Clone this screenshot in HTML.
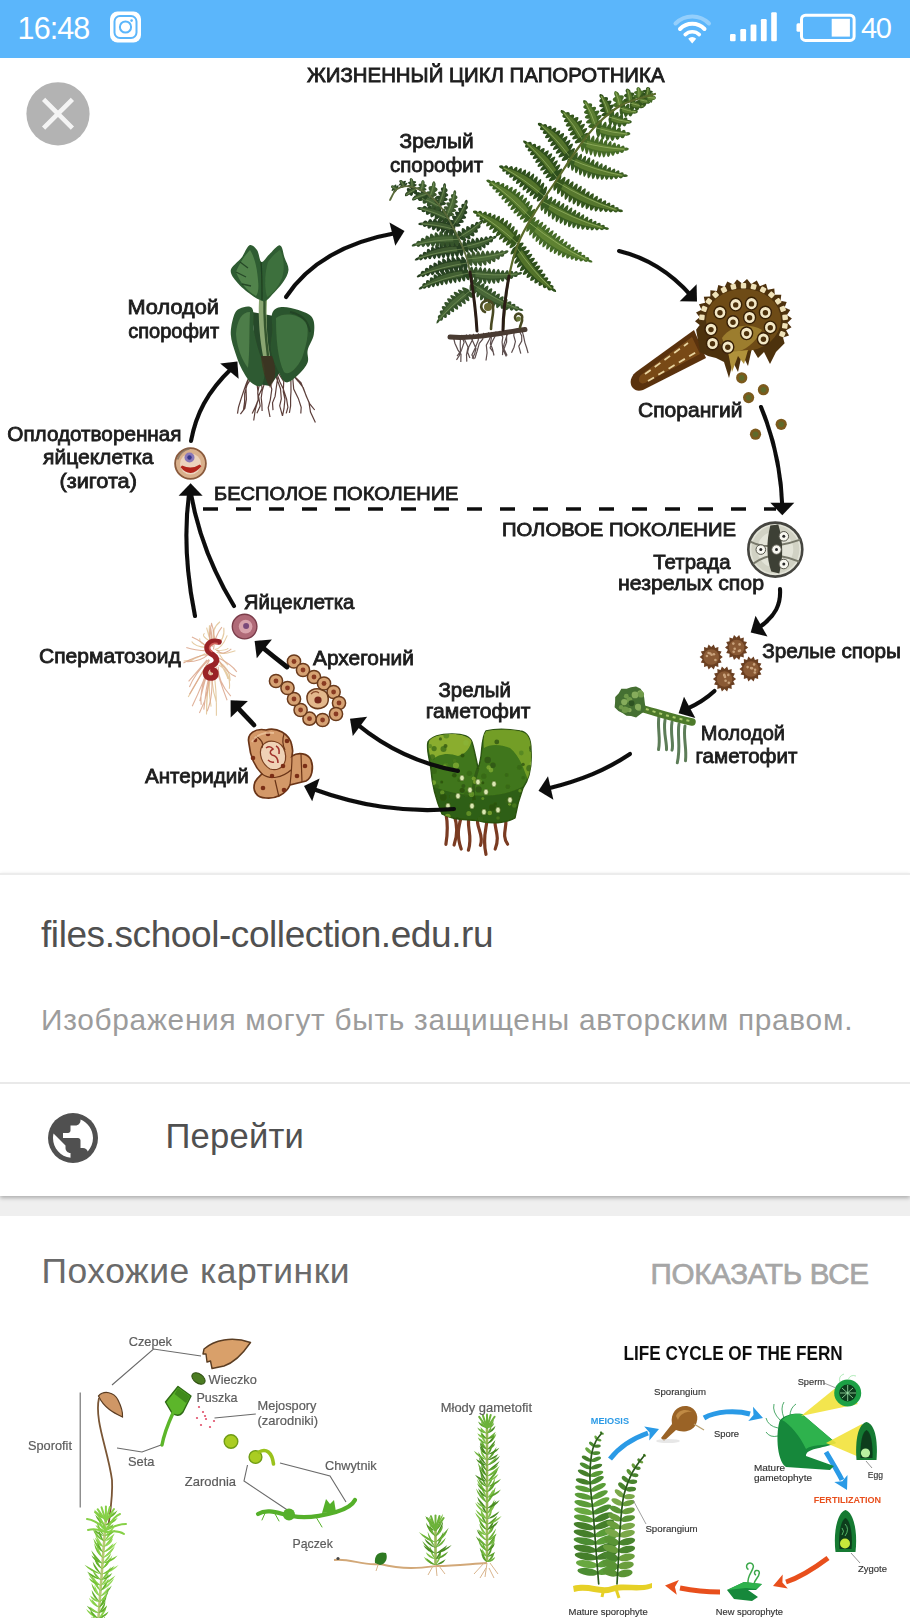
<!DOCTYPE html>
<html lang="ru"><head><meta charset="utf-8"><title>Жизненный цикл папоротника</title><style>
html,body{margin:0;padding:0}
body{width:910px;height:1618px;position:relative;overflow:hidden;background:#fff;font-family:"Liberation Sans",sans-serif}
.t{position:absolute;white-space:nowrap}
.med{-webkit-text-stroke:0.7px #a6a6a6}
.status{position:absolute;left:0;top:0;width:910px;height:58px;background:#5bb6fb}
.viewer{position:absolute;left:0;top:58px;width:910px;height:814px;background:#fff;overflow:hidden}
.info{position:absolute;left:0;top:873px;width:910px;height:323px;background:#fff;border-top:2px solid #ececec;box-sizing:border-box;box-shadow:0 2px 4px rgba(0,0,0,.28)}
.gap{position:absolute;left:0;top:1196px;width:910px;height:20px;background:#efefef}
.hr{position:absolute;left:0;top:1082px;width:910px;height:2px;background:#e9e9e9}
.related{position:absolute;left:0;top:1216px;width:910px;height:402px;background:#fff;overflow:hidden}
svg{position:absolute;left:0;top:0;display:block}
svg text{font-family:"Liberation Sans",sans-serif}
</style></head><body>
<div class="status"><svg width="910" height="58" viewBox="0 0 910 58">
<!-- instagram -->
<rect x="110" y="11.5" width="31" height="31" rx="7.5" fill="#fff"/>
<rect x="114.5" y="16" width="22" height="22" rx="5.5" fill="none" stroke="#5bb6fb" stroke-width="2"/>
<circle cx="125.5" cy="27" r="5.6" fill="none" stroke="#5bb6fb" stroke-width="2"/>
<circle cx="131.6" cy="20.6" r="1.3" fill="#5bb6fb"/>
<!-- wifi -->
<g fill="none" stroke="#fff" stroke-linecap="round">
<path d="M675.5 23.5 A23.5 23.5 0 0 1 709 23.5" stroke-width="4" opacity=".35"/>
<path d="M680 29 A17 17 0 0 1 704.5 29" stroke-width="4"/>
<path d="M685.2 34.6 A10 10 0 0 1 699.3 34.6" stroke-width="3.6"/>
</g>
<path d="M692.2 43.5 L688.2 38.8 A5.5 5.5 0 0 1 696.2 38.8 Z" fill="#fff"/>
<!-- signal -->
<g fill="#fff">
<rect x="730" y="34" width="5.6" height="7.2" rx="1.2"/>
<rect x="740.3" y="29" width="5.8" height="12.2" rx="1.2"/>
<rect x="750.6" y="24.5" width="5.8" height="16.7" rx="1.2"/>
<rect x="760.9" y="19" width="5.8" height="22.2" rx="1.2"/>
<rect x="771.2" y="12.3" width="5.6" height="28.9" rx="1.2"/>
</g>
<!-- battery -->
<rect x="801.5" y="15.2" width="52.6" height="25.2" rx="4" fill="none" stroke="#fff" stroke-width="3"/>
<rect x="796.5" y="23.2" width="4.5" height="8.6" rx="1.5" fill="#fff"/>
<rect x="831.7" y="18.8" width="18.2" height="17.8" fill="#fff"/>
</svg>
<div class="t " style="left:17.6px;top:13.2px;font-size:30.5px;line-height:30.5px;letter-spacing:-0.931px;color:#fff;">16:48</div>
<div class="t " style="left:861.0px;top:14.1px;font-size:29px;line-height:29px;letter-spacing:-1.257px;color:#fff;">40</div>
</div>
<div class="viewer"><svg width="910" height="814" viewBox="0 58 910 814">
<g filter="url(#soft)">
<path d="M453.2,336.0 L454.9,343.2 L458.0,350.1 L461.0,354.3 L460.8,362.0 M457.6,335.6 L460.4,340.0 L460.2,345.0 L460.5,351.3 L457.1,356.2 M461.2,335.1 L464.1,342.2 L461.7,349.4 L459.2,355.8 L456.5,359.8 M466.6,334.6 L464.6,339.5 L468.0,347.0 L466.5,354.8 L466.8,361.6 M469.6,334.2 L472.7,341.0 L476.0,348.5 L474.6,354.0 L472.2,358.6 M473.6,333.8 L472.2,340.2 L468.8,346.9 L467.6,352.1 L469.9,358.0 M478.4,333.3 L478.3,340.1 L475.2,348.0 L471.9,355.0 L474.3,359.1 M483.7,332.9 L482.7,339.2 L479.3,343.4 L477.1,351.2 L474.9,358.2 M488.3,332.4 L491.4,337.8 L490.3,343.9 L492.3,348.3 L494.0,355.5 M492.4,331.9 L489.2,339.7 L486.3,345.1 L487.1,352.8 L486.0,360.5 M496.1,331.5 L494.8,336.8 L492.5,341.1 L490.1,347.8 L493.5,352.5 M499.4,331.1 L502.8,337.2 L502.1,342.1 L502.8,349.4 L502.5,355.1 M503.7,330.6 L506.6,334.7 L506.6,342.1 L504.0,349.0 L507.1,355.5 M509.5,330.1 L506.7,335.9 L504.3,343.3 L502.8,349.1 L506.3,356.5 M514.2,329.7 L513.8,335.7 L515.4,341.6 L514.0,347.2 L511.5,352.7 M518.5,329.2 L521.7,335.8 L521.7,341.1 L518.8,346.2 L520.8,353.7 M521.5,328.8 L523.5,335.9 L524.9,342.6 L526.7,348.0 L528.1,353.1" fill="none" stroke="#4a3a3a" stroke-width="1.2" opacity=".9"/>
<path d="M450,337 C475,339 500,333 525,329.5" fill="none" stroke="#4a3a32" stroke-width="5" stroke-linecap="round"/>
<path d="M468.0,289.0 Q459.0,284.7 463.7,291.2 Q454.7,286.9 459.7,293.7 Q450.1,288.8 455.8,296.5 Q446.9,292.2 452.3,299.5 Q443.9,295.8 449.0,302.8 Q441.4,300.0 446.0,306.5 Q439.2,304.4 443.2,310.3 Q437.8,309.8 440.7,314.4 Q436.5,315.1 438.3,318.7 Q436.0,321.3 436.4,323.4 L436.4,323.4 L436.4,323.4 Q438.1,323.5 440.0,320.4 Q443.1,322.0 443.2,317.1 Q447.9,320.2 446.6,313.8 Q451.6,317.3 450.0,310.6 Q455.9,315.1 453.5,307.5 Q460.5,313.1 457.1,304.6 Q464.3,310.3 460.9,301.7 Q468.2,307.7 464.6,298.9 Q471.8,304.7 468.3,296.0 Q475.1,301.3 472.0,293.0Z" fill="#35522a"/><path d="M463.5,292.3 458.2,295.8 453.3,299.7 448.9,304.1 444.9,308.9 441.3,314.2 438.1,319.7 439.2,320.9 443.4,316.3 447.7,311.8 452.3,307.6 457.1,303.6 462.0,299.8 467.0,296.0Z" fill="#5f8046" opacity=".45"/><path d="M470.0,291.0Q451.3,305.2 439.2,319.5" fill="none" stroke="#7f9c62" stroke-width="0.9" opacity=".7"/>
<path d="M468.1,270.3 Q462.4,263.0 463.6,270.4 Q457.4,261.9 459.1,270.8 Q453.1,262.9 454.6,271.4 Q448.5,263.0 450.3,272.3 Q444.3,264.3 446.0,273.4 Q440.4,266.7 441.9,274.9 Q436.4,268.7 437.8,276.6 Q432.6,271.2 433.8,278.6 Q429.2,274.9 429.9,280.8 Q425.5,278.1 426.0,283.3 Q422.3,282.3 422.2,285.9 Q419.0,286.6 418.6,289.0 L418.6,289.0 L418.6,289.0 Q420.2,290.4 422.9,287.9 Q424.8,290.4 427.0,286.4 Q429.5,290.6 431.2,284.9 Q434.0,290.2 435.3,283.5 Q438.5,289.8 439.6,282.2 Q442.9,289.0 443.8,281.1 Q447.4,288.8 448.1,280.1 Q451.8,287.9 452.5,279.1 Q456.3,287.6 456.8,278.3 Q460.6,286.5 461.2,277.5 Q465.1,286.1 465.5,276.7 Q469.1,284.2 469.9,275.7Z" fill="#2c4624"/><path d="M461.8,271.3 454.7,272.3 447.8,273.8 441.1,276.0 434.6,278.9 428.3,282.3 422.2,286.2 422.6,287.7 429.2,285.1 435.8,282.7 442.6,280.6 449.4,278.9 456.4,277.5 463.4,276.3Z" fill="#5f8046" opacity=".45"/><path d="M469.0,273.0Q442.8,278.0 423.3,286.5" fill="none" stroke="#7f9c62" stroke-width="0.9" opacity=".7"/>
<path d="M466.2,260.3 Q460.3,252.4 461.3,260.3 Q455.3,251.9 456.4,260.5 Q450.4,252.3 451.6,261.0 Q445.7,253.0 447.0,261.9 Q441.0,253.9 442.4,263.1 Q436.9,256.9 437.9,264.7 Q432.7,259.4 433.4,266.6 Q428.5,262.3 429.1,268.7 Q424.6,265.8 424.8,271.2 Q420.8,269.8 420.6,273.8 Q417.2,274.9 416.6,277.0 L416.6,277.0 L416.6,277.0 Q418.2,278.2 421.2,276.0 Q423.3,278.9 425.8,274.5 Q428.2,278.7 430.3,273.1 Q433.0,278.2 434.9,271.8 Q437.9,278.1 439.5,270.6 Q443.0,278.6 444.2,269.6 Q447.7,278.0 448.9,268.8 Q452.5,277.5 453.6,268.0 Q457.1,276.3 458.3,267.3 Q461.9,275.8 463.1,266.6 Q466.4,274.3 467.8,265.7Z" fill="#283f20"/><path d="M459.9,261.1 452.9,261.7 446.0,263.0 439.3,264.9 432.8,267.5 426.4,270.7 420.2,274.4 420.6,275.9 427.2,273.5 433.9,271.4 440.6,269.6 447.4,268.2 454.4,267.1 461.3,266.1Z" fill="#5f8046" opacity=".45"/><path d="M467.0,263.0Q441.0,267.0 421.4,274.7" fill="none" stroke="#7f9c62" stroke-width="0.9" opacity=".7"/>
<path d="M462.4,246.2 Q457.0,237.8 457.7,246.0 Q452.3,237.4 453.1,246.0 Q447.7,237.5 448.5,246.3 Q443.1,238.0 444.0,246.9 Q438.7,238.8 439.6,247.8 Q434.5,240.5 435.3,249.1 Q430.6,243.8 431.0,250.7 Q426.5,246.1 426.8,252.6 Q422.7,250.0 422.7,254.8 Q418.8,253.1 418.6,257.1 Q415.3,257.9 414.6,260.0 L414.6,260.0 L414.6,260.0 Q416.1,261.4 419.1,259.3 Q420.9,262.1 423.4,258.1 Q425.5,262.1 427.8,257.0 Q430.1,262.2 432.2,256.0 Q434.9,262.8 436.6,255.1 Q439.4,262.4 441.1,254.4 Q444.1,262.6 445.6,253.8 Q448.9,263.1 450.1,253.3 Q453.3,262.2 454.6,252.9 Q457.8,261.9 459.1,252.4 Q462.2,260.5 463.6,251.8Z" fill="#283f20"/><path d="M456.4,246.7 449.7,247.0 443.1,247.9 436.6,249.5 430.3,251.7 424.2,254.4 418.1,257.6 418.5,259.2 424.8,257.3 431.2,255.6 437.7,254.2 444.3,253.2 450.9,252.4 457.5,251.8Z" fill="#5f8046" opacity=".45"/><path d="M463.0,249.0Q438.1,251.6 419.2,258.0" fill="none" stroke="#7f9c62" stroke-width="0.9" opacity=".7"/>
<path d="M458.6,236.5 Q453.7,227.6 453.7,235.8 Q448.7,226.1 448.8,235.4 Q443.9,226.4 443.9,235.4 Q439.1,226.9 439.2,235.8 Q434.5,228.3 434.4,236.6 Q429.8,229.6 429.8,237.8 Q425.4,232.7 425.2,239.3 Q421.0,235.3 420.6,241.2 Q416.7,239.4 416.1,243.3 Q412.4,243.3 411.6,246.0 L411.6,246.0 L411.6,246.0 Q413.0,247.3 416.4,245.6 Q418.0,248.8 421.1,244.8 Q423.0,250.0 425.8,244.1 Q427.9,250.5 430.6,243.5 Q432.8,251.0 435.4,243.0 Q437.7,251.1 440.1,242.7 Q442.7,252.0 445.0,242.6 Q447.5,252.2 449.8,242.5 Q452.2,251.0 454.6,242.4 Q457.0,250.6 459.4,242.1Z" fill="#35522a"/><path d="M452.8,236.5 446.3,236.2 439.9,236.6 433.6,237.5 427.4,239.2 421.3,241.4 415.2,244.0 415.4,245.5 421.7,244.2 428.0,243.1 434.3,242.3 440.7,241.9 447.1,241.7 453.5,241.6Z" fill="#5f8046" opacity=".45"/><path d="M459.0,239.3Q434.9,239.8 416.2,244.5" fill="none" stroke="#7f9c62" stroke-width="0.9" opacity=".7"/>
<path d="M455.4,226.9 Q453.2,217.7 451.0,224.9 Q448.8,215.8 446.5,223.3 Q444.3,214.2 441.9,222.2 Q439.6,213.9 437.3,221.6 Q434.7,215.3 432.6,221.5 Q429.8,216.4 427.8,221.9 Q424.7,218.7 422.9,222.6 Q419.4,222.4 418.0,224.0 L418.0,224.0 L418.0,224.0 Q419.0,225.5 422.6,225.1 Q423.3,228.4 427.2,225.7 Q427.5,231.4 431.8,226.5 Q431.9,233.6 436.4,227.5 Q436.4,235.3 441.0,228.6 Q440.8,237.4 445.5,229.8 Q445.4,238.4 450.0,231.0 Q450.0,239.1 454.6,232.1Z" fill="#283f20"/><path d="M451.0,225.7 446.2,224.0 441.4,222.9 436.4,222.2 431.4,222.1 426.3,222.5 421.1,223.2 420.9,224.6 425.9,225.1 430.8,225.8 435.8,226.6 440.6,227.7 445.5,229.0 450.3,230.4Z" fill="#5f8046" opacity=".45"/><path d="M455.0,229.5Q436.8,224.5 421.8,223.9" fill="none" stroke="#7f9c62" stroke-width="0.9" opacity=".7"/>
<path d="M449.8,216.7 Q449.3,206.9 445.7,213.7 Q445.0,204.5 441.4,211.4 Q440.6,202.6 436.9,209.6 Q435.7,201.9 432.2,208.4 Q430.3,202.7 427.3,207.7 Q424.7,204.1 422.3,207.5 Q418.8,206.4 417.0,208.0 L417.0,208.0 L417.0,208.0 Q417.5,210.2 421.4,210.0 Q421.5,213.5 426.0,211.6 Q425.2,217.5 430.5,213.3 Q429.4,220.3 434.9,215.3 Q433.6,223.0 439.3,217.4 Q437.8,225.6 443.7,219.5 Q442.5,226.9 448.2,221.3Z" fill="#2c4624"/><path d="M446.1,214.8 442.2,212.6 438.0,210.7 433.7,209.4 429.2,208.5 424.7,207.9 419.9,207.7 419.5,209.1 423.8,210.4 428.1,211.8 432.3,213.4 436.5,215.2 440.6,217.1 444.7,219.1Z" fill="#5f8046" opacity=".45"/><path d="M449.0,219.0Q433.7,211.6 420.4,208.5" fill="none" stroke="#7f9c62" stroke-width="0.9" opacity=".7"/>
<path d="M441.9,204.8 Q441.6,196.0 437.9,201.7 Q437.5,193.0 433.7,199.2 Q433.1,191.0 429.2,197.4 Q427.7,191.4 424.4,196.3 Q422.0,192.5 419.3,195.8 Q416.0,194.4 414.0,196.0 L414.0,196.0 L414.0,196.0 Q414.4,198.1 418.3,198.3 Q417.8,202.7 422.8,200.2 Q421.8,205.9 427.2,202.4 Q425.6,209.3 431.5,204.7 Q429.8,211.9 435.7,207.0 Q434.0,214.4 440.1,209.2Z" fill="#35522a"/><path d="M438.8,203.1 435.5,200.9 432.0,199.2 428.4,197.8 424.6,196.8 420.6,196.2 416.6,195.9 416.1,197.1 419.7,198.5 423.3,199.9 426.9,201.5 430.3,203.3 433.8,205.2 437.2,207.1Z" fill="#5f8046" opacity=".45"/><path d="M441.0,207.0Q428.2,199.9 416.9,196.6" fill="none" stroke="#7f9c62" stroke-width="0.9" opacity=".7"/>
<path d="M469.7,285.5 Q468.7,294.7 473.1,288.7 Q471.6,299.0 476.7,291.8 Q475.3,301.8 480.3,294.6 Q478.8,304.8 484.1,297.3 Q482.9,306.9 488.0,299.6 Q486.8,309.2 492.0,301.8 Q491.5,310.0 496.1,303.7 Q495.7,311.9 500.4,305.3 Q500.8,312.0 504.8,306.8 Q505.5,312.8 509.3,308.0 Q510.7,312.7 513.9,309.1 Q515.8,312.7 518.5,310.0 Q521.6,311.5 523.4,310.5 L523.4,310.5 L523.4,310.5 Q523.0,308.8 519.4,308.2 Q519.6,305.6 515.3,306.4 Q516.3,302.1 511.1,304.5 Q512.5,299.4 507.0,302.5 Q509.1,296.1 503.0,300.4 Q505.4,293.4 499.0,298.2 Q502.0,290.1 495.1,295.8 Q498.2,287.5 491.3,293.4 Q494.5,284.8 487.4,290.8 Q490.8,281.9 483.7,288.2 Q487.0,279.4 479.9,285.6 Q482.8,277.6 476.1,283.0 Q479.1,275.0 472.3,280.5Z" fill="#35522a"/><path d="M475.5,289.7 481.8,294.7 488.5,299.0 495.5,302.6 502.8,305.5 510.5,307.9 518.4,309.8 519.2,308.4 511.9,305.3 504.7,302.0 497.7,298.3 491.0,294.2 484.4,289.8 477.9,285.2Z" fill="#5f8046" opacity=".45"/><path d="M471.0,283.0Q495.6,299.9 517.7,308.7" fill="none" stroke="#7f9c62" stroke-width="0.9" opacity=".7"/>
<path d="M469.0,275.8 Q472.3,284.4 473.4,277.1 Q476.8,287.1 477.9,278.1 Q481.2,288.3 482.4,278.9 Q485.7,289.0 486.8,279.4 Q490.1,288.4 491.2,279.6 Q494.6,288.4 495.7,279.5 Q499.0,287.3 500.1,279.0 Q503.5,285.0 504.6,278.3 Q507.9,283.6 509.0,277.4 Q512.4,281.3 513.5,276.2 Q516.8,278.5 517.9,274.9 Q521.3,275.0 522.4,273.0 L522.4,273.0 L522.4,273.0 Q521.3,271.1 517.9,272.8 Q516.8,269.3 513.5,273.0 Q512.4,268.4 509.0,273.1 Q507.9,267.1 504.6,273.2 Q503.5,266.9 500.1,273.2 Q499.0,265.1 495.7,273.0 Q494.6,264.7 491.2,272.6 Q490.1,263.5 486.8,272.2 Q485.7,263.3 482.4,271.6 Q481.2,262.6 477.9,271.1 Q476.8,262.3 473.4,270.6 Q472.3,262.6 469.0,270.2Z" fill="#35522a"/><path d="M475.4,276.8 482.5,278.1 489.6,278.7 496.8,278.6 503.9,277.8 511.0,276.4 518.1,274.6 518.1,273.0 511.0,273.5 503.9,273.8 496.8,273.8 489.6,273.3 482.5,272.5 475.4,271.6Z" fill="#5f8046" opacity=".45"/><path d="M469.0,273.0Q495.7,276.2 517.1,274.0" fill="none" stroke="#7f9c62" stroke-width="0.9" opacity=".7"/>
<path d="M467.5,261.7 Q472.7,270.1 472.4,262.2 Q477.6,270.4 477.2,262.3 Q482.5,271.1 481.9,261.9 Q487.0,269.5 486.6,261.1 Q491.4,267.7 491.1,259.9 Q495.8,265.4 495.6,258.3 Q499.9,262.0 500.0,256.3 Q504.0,258.0 504.4,253.9 Q507.9,253.8 508.6,251.0 L508.6,251.0 L508.6,251.0 Q507.1,249.5 503.9,251.5 Q502.1,248.6 499.3,252.5 Q497.2,247.7 494.7,253.4 Q492.2,246.8 490.0,254.1 Q487.4,246.6 485.3,254.7 Q482.5,246.0 480.6,255.1 Q477.8,246.6 475.9,255.4 Q473.1,247.0 471.2,255.8 Q468.5,247.9 466.5,256.3Z" fill="#3c592d"/><path d="M472.6,261.4 478.4,261.4 484.0,260.8 489.6,259.6 495.0,257.9 500.3,255.6 505.5,253.0 505.2,251.5 499.8,252.9 494.2,254.1 488.7,255.0 483.0,255.7 477.4,256.1 471.7,256.5Z" fill="#5f8046" opacity=".45"/><path d="M467.0,259.0Q488.3,257.5 504.6,252.6" fill="none" stroke="#7f9c62" stroke-width="0.9" opacity=".7"/>
<path d="M463.8,249.4 Q469.5,256.2 468.4,249.3 Q474.4,257.0 472.9,248.8 Q478.8,256.2 477.2,247.8 Q482.8,254.2 481.4,246.3 Q486.6,251.4 485.4,244.3 Q489.8,247.1 489.3,242.0 Q493.3,243.5 493.1,239.3 Q496.4,238.7 496.7,236.0 L496.7,236.0 L496.7,236.0 Q495.3,235.2 492.4,237.0 Q490.1,233.7 488.2,238.4 Q485.5,233.8 483.9,239.6 Q480.8,233.8 479.6,240.8 Q476.2,233.8 475.3,241.7 Q471.7,234.4 470.9,242.6 Q467.3,235.3 466.5,243.5 Q463.2,237.0 462.2,244.6Z" fill="#2c4624"/><path d="M468.0,248.6 472.8,248.0 477.4,246.9 481.9,245.4 486.2,243.3 490.3,240.8 494.4,238.1 493.9,236.7 489.5,238.4 485.0,239.9 480.5,241.2 475.9,242.4 471.2,243.3 466.6,244.2Z" fill="#5f8046" opacity=".45"/><path d="M463.0,247.0Q480.5,243.5 493.5,237.7" fill="none" stroke="#7f9c62" stroke-width="0.9" opacity=".7"/>
<path d="M460.4,239.3 Q468.4,244.1 465.2,237.6 Q472.8,241.7 469.7,235.3 Q476.6,238.5 473.6,232.3 Q479.7,234.4 477.2,228.8 Q481.6,228.6 480.3,224.7 Q483.5,222.8 483.0,220.0 L483.0,220.0 L483.0,220.0 Q481.0,219.3 478.7,222.5 Q475.5,220.1 474.7,225.3 Q470.5,221.6 470.5,228.0 Q465.4,223.1 466.2,230.4 Q460.6,224.8 461.8,232.9 Q456.5,227.7 457.6,235.5Z" fill="#2c4624"/><path d="M463.5,237.6 467.2,235.9 470.6,233.8 473.7,231.4 476.6,228.7 479.2,225.6 481.7,222.3 481.0,221.2 477.8,223.6 474.6,226.0 471.3,228.2 467.9,230.2 464.5,232.2 461.0,234.1Z" fill="#5f8046" opacity=".45"/><path d="M459.0,237.4Q472.0,230.1 480.9,222.2" fill="none" stroke="#7f9c62" stroke-width="0.9" opacity=".7"/>
<path d="M455.0,226.6 Q464.0,227.3 458.6,223.0 Q467.3,223.6 461.6,219.1 Q469.5,219.2 463.9,214.8 Q469.9,213.9 465.5,210.1 Q469.9,208.3 466.6,205.1 Q468.6,202.1 467.0,199.8 L467.0,199.8 L467.0,199.8 Q464.5,199.8 464.3,203.9 Q460.1,203.0 461.8,208.1 Q456.2,206.4 459.2,212.2 Q452.6,210.0 456.4,216.2 Q449.4,213.8 453.6,220.3 Q446.7,217.9 451.0,224.4Z" fill="#283f20"/><path d="M457.1,223.7 459.7,220.7 461.8,217.4 463.6,213.9 465.0,210.2 466.0,206.4 466.8,202.4 465.7,201.8 463.9,205.2 462.1,208.7 460.1,212.0 457.9,215.3 455.6,218.5 453.4,221.7Z" fill="#5f8046" opacity=".45"/><path d="M453.0,225.5Q461.5,213.5 466.1,202.6" fill="none" stroke="#7f9c62" stroke-width="0.9" opacity=".7"/>
<path d="M449.2,216.3 Q457.9,215.5 451.8,212.4 Q459.9,211.4 453.7,208.3 Q461.7,207.3 455.0,204.1 Q460.4,202.2 455.6,199.6 Q459.5,197.3 455.7,194.9 Q457.0,191.8 455.0,190.0 L455.0,190.0 L455.0,190.0 Q453.2,190.6 453.2,194.1 Q449.5,194.1 451.7,198.3 Q446.4,197.9 450.1,202.5 Q443.2,201.5 448.3,206.6 Q440.3,205.3 446.4,210.7 Q439.6,209.8 444.8,214.9Z" fill="#3c592d"/><path d="M450.5,213.3 452.2,210.1 453.6,206.8 454.5,203.3 455.1,199.8 455.4,196.1 455.3,192.4 454.1,192.0 453.1,195.4 452.1,198.8 450.8,202.2 449.5,205.5 448.0,208.8 446.6,212.1Z" fill="#5f8046" opacity=".45"/><path d="M447.0,215.6Q452.5,203.3 454.7,192.7" fill="none" stroke="#7f9c62" stroke-width="0.9" opacity=".7"/>
<path d="M441.1,205.6 Q449.7,204.4 443.6,201.5 Q451.2,200.1 445.2,197.2 Q451.2,195.3 445.9,192.7 Q449.4,190.1 445.9,188.0 Q446.8,184.7 445.0,183.0 L445.0,183.0 L445.0,183.0 Q442.7,183.6 443.2,187.2 Q439.3,187.4 441.8,191.6 Q435.3,191.0 440.1,195.8 Q433.0,195.1 438.4,200.1 Q431.1,199.3 436.9,204.4Z" fill="#2c4624"/><path d="M442.1,203.0 443.5,200.2 444.5,197.4 445.2,194.4 445.5,191.3 445.6,188.2 445.4,185.0 444.3,184.7 443.5,187.6 442.6,190.5 441.7,193.4 440.6,196.3 439.5,199.1 438.3,202.0Z" fill="#5f8046" opacity=".45"/><path d="M439.0,205.0Q443.3,194.4 444.8,185.3" fill="none" stroke="#7f9c62" stroke-width="0.9" opacity=".7"/>
<path d="M431.9,197.5 Q440.3,195.3 434.6,192.5 Q440.4,189.7 435.2,187.0 Q436.5,183.0 434.0,181.0 L434.0,181.0 L434.0,181.0 Q431.9,181.9 431.8,186.1 Q426.3,186.2 429.8,191.3 Q423.6,191.1 428.1,196.5Z" fill="#3c592d"/><path d="M432.5,195.6 433.5,193.6 434.2,191.5 434.6,189.3 434.8,187.1 434.7,184.8 434.4,182.5 433.4,182.2 432.8,184.3 432.1,186.4 431.4,188.5 430.7,190.6 429.9,192.7 429.1,194.7Z" fill="#5f8046" opacity=".45"/><path d="M430.0,197.0Q433.0,189.2 433.9,182.7" fill="none" stroke="#7f9c62" stroke-width="0.9" opacity=".7"/>
<path d="M422.7,191.3 Q429.6,189.7 424.4,187.8 Q429.1,185.8 424.5,184.1 Q425.3,181.4 423.0,180.0 L423.0,180.0 L423.0,180.0 Q420.8,180.6 421.3,183.5 Q416.2,183.5 420.0,187.0 Q414.0,186.9 419.3,190.7Z" fill="#35522a"/><path d="M423.1,190.0 423.7,188.6 424.0,187.2 424.2,185.7 424.1,184.1 423.9,182.6 423.5,181.0 422.5,180.8 422.1,182.3 421.7,183.7 421.2,185.1 420.7,186.6 420.3,188.0 419.9,189.4Z" fill="#5f8046" opacity=".45"/><path d="M421.0,191.0Q422.7,185.6 423.0,181.1" fill="none" stroke="#7f9c62" stroke-width="0.9" opacity=".7"/>
<path d="M413.7,187.3 Q419.7,184.3 414.3,184.1 Q418.6,181.2 413.4,181.0 Q413.0,178.6 411.0,178.0 L411.0,178.0 L411.0,178.0 Q408.8,179.0 410.3,181.3 Q405.7,182.6 410.0,184.5 Q404.8,185.9 410.3,187.7Z" fill="#2c4624"/><path d="M413.7,186.2 413.8,184.9 413.8,183.6 413.5,182.3 413.1,181.1 412.4,179.9 411.7,178.7 410.7,178.8 410.7,180.1 410.6,181.4 410.6,182.7 410.5,183.9 410.5,185.2 410.5,186.5Z" fill="#5f8046" opacity=".45"/><path d="M412.0,187.5Q412.1,182.7 411.3,178.9" fill="none" stroke="#7f9c62" stroke-width="0.9" opacity=".7"/>
<path d="M405.4,186.2 Q409.9,181.3 404.9,183.4 Q407.7,179.5 403.0,181.4 Q402.0,179.7 400.0,180.0 L400.0,180.0 L400.0,180.0 Q398.3,181.7 400.4,182.9 Q396.7,185.7 401.2,185.5 Q396.5,189.0 402.6,187.8Z" fill="#283f20"/><path d="M405.0,185.3 404.7,184.2 404.2,183.3 403.6,182.4 402.8,181.6 401.9,180.9 400.8,180.3 400.0,180.7 400.4,181.8 400.7,182.8 401.1,183.8 401.5,184.9 401.9,185.9 402.3,186.8Z" fill="#5f8046" opacity=".45"/><path d="M404.0,187.0Q402.4,183.3 400.5,180.6" fill="none" stroke="#7f9c62" stroke-width="0.9" opacity=".7"/>
<path d="M397.9,188.6 Q399.8,182.5 396.4,186.6 Q396.9,182.6 394.0,185.8 Q392.8,184.4 391.0,186.0 L391.0,186.0 L391.0,186.0 Q390.5,187.8 392.4,188.3 Q390.2,192.7 394.0,190.1 Q391.5,195.0 396.1,191.4Z" fill="#2c4624"/><path d="M397.2,188.1 396.5,187.4 395.8,186.8 394.9,186.4 393.9,186.1 392.9,185.9 391.8,185.8 391.3,186.6 392.0,187.3 392.6,188.0 393.3,188.7 394.0,189.4 394.8,190.1 395.5,190.6Z" fill="#5f8046" opacity=".45"/><path d="M397.0,190.0Q394.2,187.6 391.7,186.3" fill="none" stroke="#7f9c62" stroke-width="0.9" opacity=".7"/>
<path d="M426.3,192.2 Q419.9,187.0 420.8,192.9 Q415.4,190.4 416.0,195.6 Q412.3,197.1 412.0,200.0 L412.0,200.0 L412.0,200.0 Q414.1,201.5 417.3,198.8 Q420.6,203.4 422.6,197.5 Q426.3,203.1 427.7,195.8Z" fill="#2c4624"/><path d="M424.4,192.8 422.2,193.1 420.2,193.8 418.2,194.7 416.4,195.9 414.6,197.2 412.9,198.8 413.3,199.8 415.3,199.1 417.4,198.4 419.5,197.8 421.5,197.2 423.6,196.6 425.7,196.0Z" fill="#5f8046" opacity=".45"/><path d="M427.0,194.0Q419.1,196.1 413.4,199.1" fill="none" stroke="#7f9c62" stroke-width="0.9" opacity=".7"/>
<path d="M415.0,187.5 Q408.5,183.2 410.7,188.8 Q405.3,186.4 407.4,191.7 Q404.5,193.2 405.0,196.0 L405.0,196.0 L405.0,196.0 Q407.0,197.1 409.2,194.5 Q412.7,198.0 413.2,192.7 Q417.6,197.7 417.0,190.5Z" fill="#283f20"/><path d="M413.6,188.2 412.0,188.8 410.4,189.6 409.0,190.7 407.7,191.9 406.6,193.3 405.5,194.8 406.0,195.7 407.6,194.9 409.1,194.1 410.7,193.3 412.3,192.6 413.9,191.8 415.4,191.0Z" fill="#5f8046" opacity=".45"/><path d="M416.0,189.0Q410.1,191.8 406.0,195.1" fill="none" stroke="#7f9c62" stroke-width="0.9" opacity=".7"/>
<path d="M477.0,330.0 C476.3,323.5 474.7,302.8 473.0,291.0 C471.3,279.2 469.7,268.3 467.0,259.0 C464.3,249.7 461.0,243.2 457.0,235.0 C453.0,226.8 447.9,216.8 443.0,210.0 C438.1,203.2 433.0,197.9 427.5,194.0 C422.0,190.1 415.1,187.3 410.0,186.5 C404.9,185.7 400.3,186.8 397.0,189.0 C393.7,191.2 391.2,198.2 390.0,200.0" fill="none" stroke="#5a6a3a" stroke-width="1.8" stroke-linecap="round"/>
<path d="M519.1,240.2 Q522.6,229.5 516.2,236.4 Q520.3,224.9 513.2,232.8 Q517.3,221.3 510.0,229.5 Q514.4,217.7 506.6,226.4 Q510.7,215.0 503.1,223.6 Q506.3,213.4 499.3,221.1 Q501.8,211.9 495.3,218.8 Q496.9,210.9 491.2,216.8 Q492.3,209.6 486.9,215.0 Q487.2,208.9 482.5,213.4 Q481.4,209.1 477.9,211.9 Q475.5,209.5 473.0,211.0 L473.0,211.0 L473.0,211.0 Q472.5,213.6 476.4,214.0 Q475.1,217.7 480.1,216.6 Q477.5,222.1 483.8,219.3 Q480.3,226.0 487.5,222.0 Q483.5,229.3 491.0,224.7 Q486.1,233.5 494.5,227.6 Q489.0,237.2 498.0,230.6 Q492.3,240.4 501.4,233.7 Q495.2,244.0 504.7,236.8 Q498.9,246.7 508.1,239.9 Q502.4,249.5 511.4,242.9 Q506.2,252.1 514.9,245.8Z" fill="#35571f"/><path d="M514.3,235.6 509.2,230.2 503.8,225.4 497.8,221.3 491.4,217.7 484.6,214.7 477.6,212.1 476.4,213.7 482.5,217.7 488.5,221.8 494.3,226.2 499.8,230.9 505.2,235.8 510.5,240.8Z" fill="#7ea040" opacity=".45"/><path d="M517.0,243.0Q496.9,224.4 478.0,213.4" fill="none" stroke="#a4c070" stroke-width="0.9" opacity=".7"/>
<path d="M533.3,215.3 Q537.9,204.7 530.7,211.4 Q535.6,200.5 528.0,207.6 Q532.9,196.6 525.1,204.0 Q530.2,192.9 522.1,200.7 Q526.7,190.0 518.8,197.5 Q523.3,187.1 515.4,194.6 Q519.5,184.5 511.8,191.9 Q514.9,183.0 507.9,189.5 Q510.0,181.9 504.0,187.2 Q505.5,180.2 499.8,185.1 Q500.3,179.4 495.6,183.1 Q494.8,178.8 491.2,181.3 Q489.0,178.7 486.4,180.0 L486.4,180.0 L486.4,180.0 Q486.0,182.1 489.6,183.2 Q487.8,187.1 493.1,186.1 Q490.5,190.8 496.6,188.9 Q493.1,194.7 500.0,191.8 Q495.7,198.6 503.4,194.8 Q498.2,202.6 506.7,197.8 Q500.9,206.5 510.0,201.0 Q504.0,209.8 513.1,204.2 Q506.3,214.0 516.2,207.5 Q509.3,217.5 519.3,210.9 Q512.8,220.2 522.4,214.2 Q515.9,223.5 525.5,217.5 Q519.7,226.1 528.7,220.7Z" fill="#3e6324"/><path d="M528.6,210.0 523.6,203.8 518.1,198.2 512.0,193.3 505.5,188.9 498.5,185.1 491.2,181.6 489.9,183.1 496.2,187.8 502.3,192.7 508.1,197.9 513.7,203.3 519.1,209.1 524.4,214.9Z" fill="#7ea040" opacity=".45"/><path d="M531.0,218.0Q511.0,196.3 491.6,183.0" fill="none" stroke="#a4c070" stroke-width="0.9" opacity=".7"/>
<path d="M545.9,193.1 Q549.4,181.8 543.0,189.4 Q546.7,177.8 539.8,186.0 Q543.9,173.8 536.5,182.8 Q540.2,171.2 533.0,179.9 Q536.6,168.5 529.4,177.3 Q532.4,166.7 525.5,174.9 Q527.8,165.4 521.5,172.9 Q523.1,164.3 517.3,171.0 Q518.3,163.5 513.0,169.4 Q512.9,163.4 508.5,168.0 Q507.4,163.5 503.9,166.7 Q501.5,164.3 499.0,166.0 L499.0,166.0 L499.0,166.0 Q498.9,168.2 502.5,168.9 Q501.2,172.9 506.3,171.3 Q504.2,176.5 510.1,173.8 Q507.0,180.4 513.8,176.3 Q510.0,184.0 517.5,178.9 Q513.0,187.6 521.1,181.7 Q516.0,191.4 524.6,184.5 Q519.1,194.7 528.1,187.4 Q522.7,197.5 531.5,190.3 Q526.1,200.5 535.0,193.3 Q529.6,203.4 538.5,196.2 Q533.7,205.3 542.1,198.9Z" fill="#2f4f1c"/><path d="M541.0,188.7 535.8,183.6 530.1,179.1 524.1,175.2 517.6,171.9 510.7,169.2 503.6,166.9 502.5,168.5 508.7,172.2 514.8,176.1 520.7,180.2 526.4,184.7 532.0,189.3 537.5,194.1Z" fill="#7ea040" opacity=".45"/><path d="M544.0,196.0Q523.3,178.3 504.1,168.2" fill="none" stroke="#a4c070" stroke-width="0.9" opacity=".7"/>
<path d="M559.6,175.1 Q565.8,164.7 557.5,170.8 Q564.1,160.1 555.2,166.7 Q561.5,156.3 552.7,162.9 Q559.2,152.2 549.9,159.3 Q555.8,149.2 546.8,155.9 Q552.0,146.5 543.5,152.8 Q547.1,144.8 539.8,149.9 Q542.7,142.7 536.0,147.3 Q537.0,141.7 531.9,144.8 Q531.9,140.2 527.7,142.5 Q525.4,140.0 523.0,140.7 L523.0,140.7 L523.0,140.7 Q522.6,142.6 525.7,144.4 Q523.3,148.1 528.8,147.7 Q525.3,152.5 531.9,151.1 Q526.9,157.3 534.9,154.5 Q529.3,161.2 537.8,158.0 Q531.4,165.5 540.6,161.6 Q533.1,170.1 543.4,165.3 Q535.7,173.9 546.1,169.0 Q538.6,177.4 548.8,172.7 Q541.1,181.4 551.5,176.4 Q545.0,183.9 554.4,179.9Z" fill="#2f4f1c"/><path d="M556.1,170.1 552.5,164.4 548.4,159.1 543.7,154.3 538.6,150.0 533.0,146.1 527.0,142.5 525.5,143.8 530.3,148.5 534.9,153.3 539.3,158.4 543.5,163.6 547.4,169.1 551.4,174.5Z" fill="#7ea040" opacity=".45"/><path d="M557.0,177.5Q542.2,157.1 527.1,143.7" fill="none" stroke="#a4c070" stroke-width="0.9" opacity=".7"/>
<path d="M572.6,154.6 Q578.3,144.4 570.4,150.2 Q576.6,139.6 568.0,146.0 Q574.0,135.6 565.3,142.2 Q571.0,132.0 562.3,138.6 Q567.2,129.2 559.0,135.3 Q562.8,126.9 555.3,132.3 Q558.5,124.5 551.4,129.6 Q552.8,123.5 547.3,127.1 Q546.9,122.7 542.9,124.8 Q541.0,121.8 538.0,123.0 L538.0,123.0 L538.0,123.0 Q537.1,125.4 540.8,126.8 Q538.1,130.9 543.9,130.2 Q540.5,135.0 547.1,133.7 Q541.7,140.3 550.1,137.2 Q544.2,144.4 553.1,140.8 Q546.0,149.2 556.0,144.6 Q548.4,153.3 558.8,148.3 Q551.5,156.8 561.6,152.1 Q554.1,160.7 564.4,155.8 Q557.6,163.9 567.4,159.4Z" fill="#2f4f1c"/><path d="M569.3,150.0 565.9,144.7 562.0,139.8 557.6,135.3 552.7,131.4 547.4,127.8 541.8,124.6 540.4,125.9 544.8,130.3 549.1,134.8 553.2,139.5 557.1,144.4 560.8,149.4 564.6,154.4Z" fill="#7ea040" opacity=".45"/><path d="M570.0,157.0Q556.0,138.1 541.8,125.8" fill="none" stroke="#a4c070" stroke-width="0.9" opacity=".7"/>
<path d="M585.6,138.8 Q592.2,129.8 584.1,134.1 Q591.2,124.7 582.2,129.7 Q588.7,120.6 579.8,125.6 Q585.6,117.1 576.9,121.9 Q581.3,114.3 573.5,118.5 Q575.8,112.5 569.8,115.3 Q570.3,110.6 565.7,112.4 Q563.8,109.4 561.0,110.0 L561.0,110.0 L561.0,110.0 Q559.6,112.4 563.2,114.2 Q560.5,117.6 565.8,118.2 Q560.8,123.2 568.4,122.1 Q562.0,128.2 570.8,126.2 Q563.8,132.6 573.2,130.3 Q564.9,137.7 575.4,134.5 Q567.8,141.4 577.8,138.6 Q570.5,145.3 580.4,142.6Z" fill="#35571f"/><path d="M583.4,134.8 581.3,130.1 578.7,125.8 575.7,121.8 572.1,118.1 568.2,114.8 564.0,111.6 562.5,112.7 565.5,116.7 568.4,120.8 571.1,125.0 573.7,129.4 576.2,133.8 578.6,138.3Z" fill="#7ea040" opacity=".45"/><path d="M583.0,140.7Q573.8,124.0 563.8,112.7" fill="none" stroke="#a4c070" stroke-width="0.9" opacity=".7"/>
<path d="M598.6,125.6 Q606.4,118.0 598.0,120.5 Q606.0,112.8 596.7,115.7 Q603.1,108.7 594.5,111.3 Q598.8,105.2 591.6,107.2 Q593.8,102.1 588.1,103.4 Q586.6,100.0 583.7,100.0 L583.7,100.0 L583.7,100.0 Q581.9,102.2 585.0,104.8 Q580.6,108.2 586.8,109.4 Q580.5,113.6 588.4,114.1 Q580.6,119.0 589.9,118.8 Q581.2,124.1 591.5,123.5 Q584.0,128.2 593.4,128.0Z" fill="#3e6324"/><path d="M597.5,122.2 596.6,118.3 595.3,114.6 593.5,111.1 591.3,107.8 588.7,104.6 585.8,101.6 584.3,102.3 586.0,105.9 587.5,109.5 588.9,113.2 590.2,116.9 591.4,120.7 592.7,124.4Z" fill="#7ea040" opacity=".45"/><path d="M596.0,126.8Q591.5,112.7 585.4,102.5" fill="none" stroke="#a4c070" stroke-width="0.9" opacity=".7"/>
<path d="M611.5,114.4 Q618.5,107.6 611.1,109.5 Q617.7,102.9 609.7,105.0 Q614.4,99.3 607.3,101.0 Q609.8,96.2 604.1,97.3 Q603.1,94.0 600.0,94.0 L600.0,94.0 L600.0,94.0 Q598.3,96.0 601.0,98.6 Q596.9,101.6 602.3,103.1 Q595.4,107.3 603.6,107.6 Q595.6,112.2 604.9,112.1 Q597.1,116.6 606.5,116.4Z" fill="#2f4f1c"/><path d="M610.6,111.7 610.0,108.6 609.1,105.6 607.7,102.8 606.0,100.2 604.0,97.7 601.7,95.3 600.4,95.9 601.5,98.8 602.5,101.7 603.5,104.6 604.4,107.6 605.2,110.6 606.1,113.6Z" fill="#7ea040" opacity=".45"/><path d="M609.0,115.4Q605.8,104.2 601.3,96.0" fill="none" stroke="#a4c070" stroke-width="0.9" opacity=".7"/>
<path d="M512.9,248.3 Q507.2,258.0 514.9,252.8 Q508.7,263.0 517.2,257.1 Q510.3,267.9 519.7,261.2 Q512.9,271.8 522.3,265.1 Q516.1,275.3 525.2,268.9 Q519.3,278.8 528.3,272.4 Q523.4,281.4 531.7,275.7 Q527.3,284.3 535.2,278.9 Q532.3,286.2 539.0,281.8 Q537.0,288.3 542.9,284.6 Q542.3,289.9 547.0,287.3 Q547.5,291.7 551.3,289.9 Q553.8,292.4 556.0,292.0 L556.0,292.0 L556.0,292.0 Q556.8,289.7 553.2,288.2 Q554.9,285.1 549.9,284.8 Q553.3,280.3 546.7,281.3 Q551.1,275.9 543.5,277.8 Q548.7,271.8 540.5,274.3 Q546.6,267.3 537.5,270.6 Q544.3,263.1 534.6,266.9 Q542.1,258.7 531.8,263.1 Q539.2,255.0 529.1,259.2 Q536.7,250.9 526.4,255.3 Q534.4,246.6 523.7,251.3 Q530.8,243.5 521.0,247.5 Q527.5,240.2 518.1,243.7Z" fill="#2f4f1c"/><path d="M516.9,254.5 521.2,261.7 526.1,268.3 531.5,274.3 537.6,279.9 544.3,284.9 551.3,289.6 552.8,288.3 547.0,282.5 541.4,276.6 536.1,270.4 531.1,263.8 526.4,257.1 521.8,250.3Z" fill="#7ea040" opacity=".45"/><path d="M515.5,246.0Q533.0,271.4 551.1,288.2" fill="none" stroke="#a4c070" stroke-width="0.9" opacity=".7"/>
<path d="M527.1,225.5 Q524.3,236.3 530.2,228.9 Q527.0,240.3 533.4,232.1 Q530.2,243.5 536.7,235.2 Q533.2,247.0 540.0,238.2 Q536.5,250.1 543.4,241.0 Q540.2,252.4 547.0,243.6 Q544.1,254.6 550.6,246.1 Q547.6,257.2 554.4,248.4 Q552.0,258.5 558.2,250.5 Q556.2,260.0 562.2,252.5 Q560.5,261.5 566.3,254.3 Q565.3,262.2 570.5,255.9 Q570.2,262.6 574.7,257.4 Q574.7,263.7 579.0,258.8 Q580.0,263.5 583.4,260.1 Q585.3,263.2 587.9,261.3 Q590.5,263.3 592.6,262.0 L592.6,262.0 L592.6,262.0 Q592.3,260.3 589.0,259.5 Q589.8,256.1 585.1,257.4 Q586.3,253.4 581.2,255.3 Q583.5,249.6 577.4,253.1 Q579.9,247.0 573.6,250.9 Q576.6,244.0 569.8,248.7 Q573.2,241.1 566.0,246.3 Q570.1,237.6 562.4,243.9 Q566.7,234.9 558.8,241.4 Q563.5,231.7 555.2,238.8 Q560.1,228.7 551.7,236.1 Q556.8,225.8 548.2,233.3 Q553.1,223.3 544.7,230.6 Q550.0,220.0 541.3,227.7 Q546.5,217.3 537.8,225.0 Q542.4,215.5 534.4,222.2 Q538.4,213.6 530.9,219.5Z" fill="#456b27"/><path d="M534.1,231.4 541.6,238.2 549.6,244.2 558.1,249.4 567.1,253.8 576.6,257.5 586.4,260.6 587.4,259.0 578.5,254.4 569.8,249.6 561.3,244.3 553.1,238.5 545.2,232.3 537.5,225.9Z" fill="#7ea040" opacity=".45"/><path d="M529.0,222.5Q558.4,246.1 585.5,259.2" fill="none" stroke="#a4c070" stroke-width="0.9" opacity=".7"/>
<path d="M540.7,204.5 Q539.7,215.7 544.4,207.5 Q543.0,219.6 548.1,210.2 Q546.9,222.1 552.0,212.8 Q550.6,225.1 555.9,215.2 Q554.3,227.9 559.8,217.5 Q558.7,229.2 563.9,219.5 Q563.0,230.6 568.1,221.3 Q567.2,232.3 572.3,222.9 Q571.9,232.8 576.6,224.3 Q576.5,233.4 581.0,225.5 Q581.4,233.4 585.5,226.5 Q586.4,233.2 590.1,227.4 Q591.2,233.4 594.7,228.1 Q596.4,232.7 599.3,228.6 Q601.8,231.5 604.1,229.1 Q607.1,230.7 609.0,229.0 L609.0,229.0 L609.0,229.0 Q608.7,226.9 604.9,227.0 Q605.1,223.6 600.6,225.5 Q601.4,220.8 596.3,224.0 Q597.4,218.5 592.1,222.5 Q593.6,215.7 587.8,220.9 Q589.9,212.9 583.6,219.2 Q586.0,210.5 579.5,217.4 Q582.2,207.9 575.4,215.4 Q578.4,205.1 571.3,213.4 Q574.6,202.6 567.3,211.3 Q570.7,200.0 563.3,209.1 Q566.7,198.0 559.3,206.9 Q562.6,195.9 555.3,204.6 Q558.5,194.1 551.4,202.4 Q554.6,191.6 547.4,200.2 Q550.0,190.8 543.3,198.1Z" fill="#395c21"/><path d="M548.2,209.1 556.5,214.4 565.1,218.9 574.0,222.5 583.3,225.3 593.0,227.3 602.9,228.7 603.6,226.9 594.4,223.9 585.3,220.7 576.3,216.9 567.6,212.7 559.1,208.0 550.7,203.1Z" fill="#7ea040" opacity=".45"/><path d="M542.0,201.3Q573.8,219.2 601.8,227.5" fill="none" stroke="#a4c070" stroke-width="0.9" opacity=".7"/>
<path d="M553.6,184.2 Q552.3,195.6 557.3,187.3 Q555.7,199.5 561.1,190.2 Q559.6,202.1 564.9,193.0 Q563.3,205.3 568.9,195.6 Q567.0,208.3 572.9,198.0 Q571.5,209.7 577.0,200.2 Q575.7,211.6 581.2,202.2 Q580.4,212.7 585.5,204.0 Q585.0,213.7 589.9,205.5 Q589.5,215.1 594.4,206.9 Q594.4,215.6 599.0,208.1 Q599.6,215.4 603.6,209.1 Q604.9,214.8 608.3,210.0 Q610.1,214.6 613.1,210.7 Q615.5,213.9 617.9,211.3 Q621.0,213.0 623.0,211.4 L623.0,211.4 L623.0,211.4 Q622.8,209.0 618.8,209.3 Q619.0,206.0 614.5,207.6 Q615.4,202.8 610.1,206.0 Q611.4,200.2 605.8,204.3 Q607.7,197.1 601.5,202.5 Q603.6,194.9 597.2,200.6 Q599.9,191.8 593.0,198.7 Q595.9,189.2 588.8,196.6 Q591.9,186.9 584.7,194.4 Q588.2,183.6 580.6,192.1 Q584.4,180.8 576.6,189.8 Q580.3,178.7 572.5,187.4 Q576.0,176.7 568.5,184.9 Q572.1,174.1 564.5,182.5 Q567.8,172.3 560.5,180.1 Q563.6,170.4 556.4,177.8Z" fill="#35571f"/><path d="M561.2,189.1 569.5,194.8 578.2,199.6 587.3,203.6 596.8,206.8 606.6,209.1 616.7,210.9 617.5,209.1 608.1,205.8 598.8,202.2 589.8,198.1 581.0,193.5 572.3,188.5 563.8,183.2Z" fill="#7ea040" opacity=".45"/><path d="M555.0,181.0Q587.2,200.3 615.6,209.6" fill="none" stroke="#a4c070" stroke-width="0.9" opacity=".7"/>
<path d="M567.0,161.7 Q567.1,173.3 570.9,164.2 Q570.9,176.3 574.9,166.5 Q574.7,179.1 578.9,168.6 Q578.7,181.3 583.0,170.5 Q583.0,182.5 587.2,172.1 Q587.2,184.0 591.5,173.5 Q591.8,184.3 595.8,174.6 Q596.5,184.1 600.2,175.5 Q601.1,184.1 604.7,176.1 Q606.0,183.5 609.2,176.5 Q610.8,183.1 613.8,176.7 Q615.9,181.5 618.4,176.8 Q620.9,180.2 623.1,176.7 Q626.3,177.7 628.0,176.0 L628.0,176.0 L628.0,176.0 Q627.4,173.9 623.8,174.4 Q623.7,170.9 619.5,173.3 Q619.9,167.8 615.2,172.2 Q616.0,165.4 610.8,171.0 Q611.9,163.5 606.6,169.7 Q608.0,160.7 602.3,168.4 Q603.9,159.0 598.1,166.9 Q600.0,156.4 593.9,165.3 Q596.0,154.1 589.7,163.6 Q592.0,152.0 585.6,161.8 Q587.7,150.8 581.5,160.1 Q583.7,148.4 577.3,158.3 Q579.4,147.3 573.2,156.5 Q575.0,146.6 569.0,154.9Z" fill="#395c21"/><path d="M573.9,164.8 581.5,168.7 589.3,171.7 597.3,174.0 605.6,175.4 614.0,176.2 622.7,176.4 623.2,174.5 615.1,172.7 607.0,170.7 599.0,168.2 591.2,165.3 583.4,162.1 575.7,158.7Z" fill="#7ea040" opacity=".45"/><path d="M568.0,158.3Q596.9,170.8 621.7,175.3" fill="none" stroke="#a4c070" stroke-width="0.9" opacity=".7"/>
<path d="M580.5,145.5 Q582.1,157.2 584.7,147.5 Q586.2,160.1 588.9,149.2 Q590.5,161.1 593.1,150.5 Q594.6,163.0 597.4,151.6 Q599.1,163.1 601.8,152.2 Q603.6,162.5 606.2,152.5 Q608.2,161.6 610.7,152.4 Q612.9,159.9 615.2,152.0 Q617.8,157.0 619.7,151.4 Q622.5,155.1 624.3,150.5 Q627.5,151.6 629.0,149.0 L629.0,149.0 L629.0,149.0 Q628.2,146.8 624.7,147.8 Q624.2,143.6 620.4,147.2 Q620.1,141.4 616.0,146.5 Q616.0,139.0 611.6,145.7 Q611.9,136.6 607.3,144.9 Q607.6,135.1 603.0,143.9 Q603.5,132.5 598.7,142.8 Q599.2,131.5 594.4,141.6 Q595.0,129.9 590.1,140.5 Q590.7,129.0 585.8,139.4 Q586.2,129.5 581.5,138.5Z" fill="#456b27"/><path d="M586.1,147.1 592.4,149.2 598.7,150.7 605.1,151.5 611.6,151.6 618.2,151.1 624.9,150.1 625.2,148.2 618.8,147.5 612.3,146.7 606.0,145.5 599.6,144.1 593.4,142.4 587.1,140.7Z" fill="#7ea040" opacity=".45"/><path d="M581.0,142.0Q604.6,148.4 624.1,149.2" fill="none" stroke="#a4c070" stroke-width="0.9" opacity=".7"/>
<path d="M595.9,131.1 Q597.6,142.6 600.5,133.5 Q602.2,145.1 605.2,135.2 Q607.1,145.7 610.0,136.3 Q612.1,145.6 615.0,136.7 Q617.5,143.4 620.0,136.4 Q623.0,140.7 625.2,135.6 Q628.9,136.1 630.5,134.0 L630.5,134.0 L630.5,134.0 Q629.8,131.0 625.8,132.4 Q625.4,127.5 620.9,131.4 Q621.0,123.8 616.1,130.2 Q616.4,121.3 611.3,128.8 Q611.9,118.4 606.6,127.4 Q607.2,116.6 601.8,126.0 Q602.2,116.4 596.9,124.9Z" fill="#3e6324"/><path d="M599.9,132.3 604.3,134.0 608.7,135.2 613.3,135.8 618.0,135.9 622.7,135.6 627.5,134.9 627.8,133.2 623.3,132.4 618.7,131.6 614.2,130.5 609.8,129.3 605.3,128.0 600.9,126.7Z" fill="#7ea040" opacity=".45"/><path d="M596.4,128.0Q613.1,133.0 627.0,134.0" fill="none" stroke="#a4c070" stroke-width="0.9" opacity=".7"/>
<path d="M608.4,119.6 Q609.8,130.0 612.7,122.1 Q614.3,131.4 617.2,123.6 Q619.1,131.4 621.9,124.0 Q624.5,129.0 626.9,123.5 Q630.3,124.5 632.0,122.0 L632.0,122.0 L632.0,122.0 Q631.3,119.7 627.6,120.1 Q627.5,115.1 623.1,118.7 Q623.6,110.7 618.6,117.1 Q619.4,107.9 614.1,115.5 Q614.8,106.8 609.6,114.4Z" fill="#395c21"/><path d="M611.1,120.5 614.1,121.8 617.1,122.7 620.2,123.2 623.4,123.3 626.6,123.1 629.9,122.7 630.2,121.2 627.2,120.4 624.2,119.6 621.1,118.7 618.2,117.7 615.2,116.7 612.2,115.7Z" fill="#7ea040" opacity=".45"/><path d="M609.0,117.0Q620.2,120.9 629.6,121.9" fill="none" stroke="#a4c070" stroke-width="0.9" opacity=".7"/>
<path d="M622.3,106.3 Q630.3,99.4 622.1,100.5 Q626.7,94.7 619.6,95.4 Q618.4,91.4 615.0,91.0 L615.0,91.0 L615.0,91.0 Q613.1,93.1 615.4,96.7 Q609.6,100.0 616.2,102.3 Q609.2,106.0 617.7,107.7Z" fill="#456b27"/><path d="M621.9,104.3 621.7,102.0 621.2,99.8 620.3,97.8 619.2,95.8 617.9,93.9 616.3,92.0 615.0,92.4 615.5,94.6 616.0,96.8 616.4,99.0 616.8,101.2 617.2,103.4 617.6,105.6Z" fill="#7ea040" opacity=".45"/><path d="M620.0,107.0Q618.5,98.7 615.8,92.5" fill="none" stroke="#a4c070" stroke-width="0.9" opacity=".7"/>
<path d="M632.2,101.5 Q640.0,96.2 632.6,96.7 Q637.2,92.1 630.7,92.4 Q630.4,88.9 627.0,88.5 L627.0,88.5 L627.0,88.5 Q624.3,90.3 626.7,93.3 Q621.0,95.7 626.8,98.0 Q619.3,100.8 627.8,102.5Z" fill="#35571f"/><path d="M632.0,99.9 632.0,98.0 631.7,96.1 631.2,94.4 630.3,92.7 629.3,91.0 628.1,89.4 626.8,89.7 627.0,91.5 627.2,93.4 627.3,95.2 627.5,97.1 627.6,98.9 627.9,100.8Z" fill="#7ea040" opacity=".45"/><path d="M630.0,102.0Q629.3,95.1 627.6,89.8" fill="none" stroke="#a4c070" stroke-width="0.9" opacity=".7"/>
<path d="M641.2,97.8 Q649.3,94.3 642.0,94.0 Q647.3,90.8 640.9,90.4 Q641.0,87.7 638.0,87.0 L638.0,87.0 L638.0,87.0 Q635.5,88.1 636.9,90.8 Q631.2,92.2 636.5,94.5 Q629.6,96.1 636.8,98.2Z" fill="#456b27"/><path d="M641.1,96.5 641.3,95.0 641.3,93.5 641.0,92.0 640.5,90.6 639.7,89.2 638.9,87.8 637.6,87.9 637.5,89.4 637.4,90.9 637.3,92.4 637.2,93.9 637.1,95.4 637.1,96.8Z" fill="#7ea040" opacity=".45"/><path d="M639.0,98.0Q639.2,92.4 638.3,88.1" fill="none" stroke="#a4c070" stroke-width="0.9" opacity=".7"/>
<path d="M649.1,96.2 Q657.3,94.9 650.5,93.3 Q655.7,91.7 650.0,90.3 Q651.2,88.1 648.0,87.0 L648.0,87.0 L648.0,87.0 Q645.4,87.5 646.2,89.8 Q640.2,89.9 645.1,92.8 Q638.5,92.8 644.9,95.8Z" fill="#2f4f1c"/><path d="M649.2,95.2 649.7,94.0 649.9,92.8 649.9,91.6 649.6,90.3 649.2,89.1 648.6,87.8 647.5,87.7 647.0,88.8 646.6,90.0 646.3,91.2 645.9,92.4 645.6,93.5 645.4,94.7Z" fill="#7ea040" opacity=".45"/><path d="M647.0,96.0Q648.0,91.6 648.1,87.9" fill="none" stroke="#a4c070" stroke-width="0.9" opacity=".7"/>
<path d="M619.5,110.4 Q620.8,120.5 623.6,112.9 Q625.4,120.9 628.1,113.9 Q630.5,119.1 632.9,113.6 Q636.3,114.3 638.0,112.0 L638.0,112.0 L638.0,112.0 Q637.4,109.2 633.7,109.9 Q633.8,104.1 629.4,108.3 Q630.0,100.0 625.0,106.7 Q625.5,99.0 620.5,105.6Z" fill="#395c21"/><path d="M621.6,111.1 623.9,112.2 626.2,112.9 628.7,113.2 631.2,113.3 633.7,113.1 636.4,112.6 636.7,111.3 634.3,110.6 631.9,109.9 629.6,109.1 627.2,108.3 624.9,107.4 622.6,106.7Z" fill="#7ea040" opacity=".45"/><path d="M620.0,108.0Q628.8,111.1 636.1,111.9" fill="none" stroke="#a4c070" stroke-width="0.9" opacity=".7"/>
<path d="M629.5,105.3 Q631.4,115.3 634.3,107.7 Q637.0,113.7 639.4,107.9 Q643.0,109.4 645.0,106.0 L645.0,106.0 L645.0,106.0 Q644.3,103.1 640.3,103.7 Q640.3,97.2 635.4,101.8 Q635.7,94.0 630.5,100.7Z" fill="#35571f"/><path d="M631.3,105.8 633.2,106.7 635.2,107.2 637.2,107.4 639.3,107.4 641.4,107.1 643.6,106.6 643.9,105.3 641.9,104.7 640.0,104.1 638.0,103.5 636.1,102.8 634.1,102.1 632.2,101.6Z" fill="#7ea040" opacity=".45"/><path d="M630.0,103.0Q637.3,105.4 643.4,106.0" fill="none" stroke="#a4c070" stroke-width="0.9" opacity=".7"/>
<path d="M638.6,101.7 Q640.3,110.3 642.4,103.6 Q644.6,109.3 646.6,103.5 Q649.5,104.4 651.0,101.5 L651.0,101.5 L651.0,101.5 Q650.4,99.0 647.2,99.5 Q647.2,93.3 643.4,98.0 Q643.6,90.1 639.4,97.3Z" fill="#35571f"/><path d="M640.1,102.0 641.6,102.7 643.2,103.0 644.8,103.1 646.5,103.0 648.2,102.7 649.9,102.1 650.1,100.9 648.6,100.4 647.0,99.9 645.4,99.4 643.9,98.8 642.3,98.4 640.7,98.0Z" fill="#7ea040" opacity=".45"/><path d="M639.0,99.5Q644.9,101.2 649.8,101.5" fill="none" stroke="#a4c070" stroke-width="0.9" opacity=".7"/>
<path d="M646.8,99.1 Q648.1,107.6 649.7,100.5 Q651.4,105.6 652.7,100.0 Q654.9,100.6 656.0,98.0 L656.0,98.0 L656.0,98.0 Q655.5,95.3 653.2,96.2 Q653.1,90.0 650.2,95.1 Q650.2,88.4 647.2,94.9Z" fill="#456b27"/><path d="M647.8,99.2 649.0,99.7 650.2,99.9 651.4,99.9 652.7,99.6 653.9,99.2 655.2,98.6 655.3,97.5 654.2,97.0 653.0,96.6 651.8,96.3 650.6,95.9 649.5,95.6 648.3,95.4Z" fill="#7ea040" opacity=".45"/><path d="M647.0,97.0Q651.4,98.0 655.1,98.1" fill="none" stroke="#a4c070" stroke-width="0.9" opacity=".7"/>
<path d="M503.0,330.0 C503.8,322.0 505.5,296.3 508.0,282.0 C510.5,267.7 513.4,255.8 518.0,244.0 C522.6,232.2 529.4,221.5 535.7,211.0 C542.0,200.5 549.3,191.0 556.0,181.0 C562.7,171.0 569.3,160.2 576.0,151.0 C582.7,141.8 588.4,133.2 596.0,125.5 C603.6,117.8 611.8,110.2 621.6,105.0 C631.4,99.8 649.4,95.8 655.0,94.0" fill="none" stroke="#5a6a2a" stroke-width="2.2" stroke-linecap="round"/>
<path d="M477,331 C476,312 474,296 470,272 M503,330 C503,312 505,298 509,276" fill="none" stroke="#2a1e14" stroke-width="3" stroke-linecap="round"/>
<g fill="none" stroke="#4a4a22" stroke-width="2.6" stroke-linecap="round"><path d="M491,329 C491,320 494,314 493,308 a6,6 0 1 0 -8,4"/><path d="M520,328 C520,324 523,322 522,318.5 a3.6,3.6 0 1 0 -5,2"/></g>
<circle cx="488" cy="307" r="4" fill="#6a6a32"/><circle cx="518.5" cy="319" r="2.4" fill="#6a7a3a"/>
<path d="M256.0,361.6 L246.6,382.6 L243.6,391.2 L241.3,398.1 L238.5,407.2 L237.5,413.7 M257.6,360.4 L247.3,382.0 L246.0,388.3 L246.4,399.1 L244.9,408.2 L240.4,414.2 M259.2,362.2 L250.7,379.0 L247.0,385.1 L244.7,393.3 L244.6,401.9 L243.4,410.4 M260.8,363.3 L256.6,379.4 L257.8,390.4 L258.1,399.9 L255.3,407.1 L252.2,413.4 M262.4,364.1 L259.8,382.2 L257.7,393.0 L258.4,399.0 L255.3,409.6 L253.7,420.5 M264.0,361.2 L261.4,381.1 L262.0,388.5 L258.5,396.2 L260.2,405.9 L256.9,413.2 M265.6,358.8 L264.9,382.0 L262.2,390.8 L261.2,397.7 L261.9,404.4 L262.1,411.0 M267.2,361.4 L269.3,379.3 L271.8,389.4 L270.3,399.8 L268.2,407.8 L270.0,417.0 M268.8,358.8 L277.5,379.1 L276.1,388.9 L275.1,396.4 L272.5,402.9 L273.0,410.1 M270.4,362.8 L277.4,380.3 L280.5,388.7 L281.3,399.0 L279.7,405.8 L282.5,415.9 M272.0,360.0 L279.8,381.7 L283.2,388.7 L286.6,399.1 L287.9,407.2 L286.2,413.4 M273.6,365.7 L283.7,381.5 L283.3,391.6 L284.9,399.1 L284.0,408.7 L282.5,415.9 M275.2,362.5 L290.9,381.1 L291.0,391.7 L290.6,397.7 L290.6,406.0 L289.4,412.9 M276.8,361.0 L292.8,378.7 L293.7,389.1 L298.3,398.4 L301.2,407.3 L300.8,413.5 M278.4,358.1 L298.4,381.5 L303.2,387.6 L306.2,396.0 L309.6,403.6 L314.7,410.0 M280.0,362.4 L300.9,382.5 L304.7,392.0 L309.0,402.6 L310.5,412.0 L315.4,422.4" fill="none" stroke="#4a2a26" stroke-width="1.2" opacity=".9"/>
<path d="M252,312 L274,316 L280,372 L270,386 L258,384 Z" fill="#274a2a"/>
<path d="M252.3,308.5 C250.0,304.9 243.1,307.2 240.0,308.5 C236.9,309.8 235.3,311.6 233.8,316.0 C232.3,320.4 230.5,328.4 230.8,334.6 C231.1,340.8 233.6,347.4 235.4,353.0 C237.2,358.6 238.9,363.6 241.5,368.5 C244.1,373.4 247.5,379.5 250.8,382.3 C254.1,385.1 259.2,387.7 261.5,385.4 C263.8,383.1 265.1,374.4 264.6,368.5 C264.1,362.6 260.3,356.4 258.5,350.0 C256.7,343.6 254.8,336.9 253.8,330.0 C252.8,323.1 254.6,312.1 252.3,308.5Z" fill="#2f5a30"/>
<path d="M272.3,313.0 C273.8,309.2 277.1,307.5 281.5,307.0 C285.9,306.5 293.4,308.2 298.5,310.0 C303.6,311.8 309.8,313.6 312.3,317.7 C314.9,321.8 314.6,329.2 313.8,334.6 C313.0,340.0 308.7,345.4 307.7,350.0 C306.7,354.6 309.2,358.2 307.7,362.3 C306.2,366.4 302.1,371.3 298.5,374.6 C294.9,377.9 289.6,383.3 286.0,382.3 C282.4,381.3 279.5,373.9 277.0,368.5 C274.5,363.1 271.6,356.4 270.8,350.0 C270.0,343.6 272.1,336.2 272.3,330.0 C272.6,323.8 270.8,316.8 272.3,313.0Z" fill="#2c552d"/>
<path d="M276,318 C284,312 298,314 306,322 C310,332 306,346 302,358 C296,370 288,376 284,372 C278,360 276,340 276,318Z" fill="#477c45" opacity=".75"/>
<path d="M250,312 C242,312 237,320 236,334 C237,348 242,360 248,368 C250,350 249,330 250,312Z" fill="#5a8c52" opacity=".7"/>
<path d="M290,312 C300,314 308,320 310,332" stroke="#1d3b1f" stroke-width="2" fill="none" opacity=".6"/>
<path d="M259,300 C258,320 260,340 263,356 L270,356 C267,340 266,320 267,300Z" fill="#8aa672"/>
<path d="M264.5,300 C264,320 266,340 268,356" stroke="#35562f" stroke-width="2.4" fill="none"/>
<path d="M261.5,300.8 C259.0,299.8 254.9,297.7 250.8,294.6 C246.7,291.5 240.3,286.4 237.0,282.3 C233.7,278.2 230.1,274.1 230.8,270.0 C231.6,265.9 238.4,261.8 241.5,257.7 C244.6,253.6 246.6,246.7 249.2,245.4 C251.8,244.1 254.9,247.2 257.0,250.0 C259.1,252.8 259.5,261.2 261.5,262.0 C263.5,262.8 266.1,257.4 269.2,254.6 C272.3,251.8 277.4,244.9 280.0,245.4 C282.6,245.9 283.2,253.6 284.6,257.7 C286.0,261.8 288.8,265.9 288.5,270.0 C288.2,274.1 285.7,278.2 283.0,282.3 C280.3,286.4 275.1,291.5 272.3,294.6 C269.5,297.7 267.8,299.8 266.0,300.8 C264.2,301.8 264.0,301.8 261.5,300.8Z" fill="#2f5c30"/>
<path d="M236,272 C240,262 246,254 250,250 C254,256 257,266 258,280 C259,288 258,294 256,296 C246,290 240,282 236,272Z" fill="#5f9458" opacity=".7"/>
<path d="M268,262 C272,256 277,252 280,250 C284,258 285,268 282,278 C278,288 272,294 267,297 C264,286 265,272 268,262Z" fill="#427540" opacity=".8"/>
<path d="M262,300 C262,286 262,272 261,262 M240,262 l8,6 M236,272 l10,5 M242,284 l9,2" fill="none" stroke="#1c3a1e" stroke-width="1.3" opacity=".8"/>
<path d="M261,356 C262,368 265,380 270,388 C276,380 277,368 272,356Z" fill="#4a241c" opacity=".55"/>
<path d="M694,330 L636,372 C626,380 631,394 643,390 L706,358 Z" fill="#5a3210"/>
<path d="M692,337 L641,375 C637,379 639,385 645,383 L700,354Z" fill="#7e4e1a" opacity=".85"/>
<path d="M648,381 L698,351 M645,374 L688,343" stroke="#e8d4a0" stroke-width="1.8" stroke-dasharray="7 5" fill="none"/>
<path d="M696.1,329.7 699.7,325.0 695.0,321.2 699.7,317.3 696.0,312.6 701.5,309.7 699.0,304.3 705.1,302.7 703.8,296.8 710.3,296.4 710.4,290.3 716.9,291.1 718.3,285.1 724.6,287.1 727.3,281.4 733.2,284.5 737.0,279.4 742.1,283.5 747.0,279.1 751.1,284.1 756.8,280.6 759.8,286.2 766.0,283.8 767.8,289.8 774.3,288.6 774.8,294.7 781.3,294.7 780.5,300.7 786.7,302.0 784.6,307.5 790.3,310.0 786.9,315.0 791.9,318.5 787.5,322.7 791.5,327.2 786.1,330.3 789.0,335.5 783.0,337.5 784.6,343.3 L776,352 L770,364 L764,352 L758,358 L752,348 L748,366 L742,354 L738,372 L733,362 L729,378 L724,362 L716,358 L708,356 L700,352 Z" fill="#4e300c"/>
<ellipse cx="743.5" cy="320" rx="37.5" ry="31.0" fill="#6e4c16"/>
<path d="M722,338 C730,326 748,322 762,330 C756,342 744,352 734,352 C728,350 724,344 722,338Z" fill="#a88a34" opacity=".8"/>
<path d="M728,352 L732,372 L738,356 L744,364 L748,350Z" fill="#b0923a"/>
<rect x="699.2" y="314.6" width="5.4" height="5.4" rx="1" fill="#efe2b8" transform="rotate(186 701.9 317.3)"/>
<rect x="701.5" y="306.2" width="5.4" height="5.4" rx="1" fill="#efe2b8" transform="rotate(200 704.2 308.9)"/>
<rect x="706.1" y="298.6" width="5.4" height="5.4" rx="1" fill="#efe2b8" transform="rotate(214 708.8 301.3)"/>
<rect x="712.8" y="292.1" width="5.4" height="5.4" rx="1" fill="#efe2b8" transform="rotate(228 715.5 294.8)"/>
<rect x="721.2" y="287.1" width="5.4" height="5.4" rx="1" fill="#efe2b8" transform="rotate(242 723.9 289.8)"/>
<rect x="730.7" y="284.0" width="5.4" height="5.4" rx="1" fill="#efe2b8" transform="rotate(256 733.4 286.7)"/>
<rect x="740.8" y="283.0" width="5.4" height="5.4" rx="1" fill="#efe2b8" transform="rotate(270 743.5 285.7)"/>
<rect x="750.9" y="284.0" width="5.4" height="5.4" rx="1" fill="#efe2b8" transform="rotate(284 753.6 286.7)"/>
<rect x="760.4" y="287.1" width="5.4" height="5.4" rx="1" fill="#efe2b8" transform="rotate(298 763.1 289.8)"/>
<rect x="768.8" y="292.1" width="5.4" height="5.4" rx="1" fill="#efe2b8" transform="rotate(312 771.5 294.8)"/>
<rect x="775.5" y="298.6" width="5.4" height="5.4" rx="1" fill="#efe2b8" transform="rotate(326 778.2 301.3)"/>
<rect x="780.1" y="306.2" width="5.4" height="5.4" rx="1" fill="#efe2b8" transform="rotate(340 782.8 308.9)"/>
<rect x="782.4" y="314.6" width="5.4" height="5.4" rx="1" fill="#efe2b8" transform="rotate(354 785.1 317.3)"/>
<rect x="782.2" y="323.2" width="5.4" height="5.4" rx="1" fill="#efe2b8" transform="rotate(368 784.9 325.9)"/>
<rect x="779.6" y="331.5" width="5.4" height="5.4" rx="1" fill="#efe2b8" transform="rotate(382 782.3 334.2)"/>
<ellipse cx="720" cy="312.5" rx="6" ry="6.3" fill="#f3e8c6" stroke="#382006" stroke-width="1.4"/><circle cx="720" cy="312.8" r="2.7" fill="#4e300c"/>
<ellipse cx="735.7" cy="304.6" rx="6" ry="6.3" fill="#f3e8c6" stroke="#382006" stroke-width="1.4"/><circle cx="735.7" cy="304.90000000000003" r="2.7" fill="#4e300c"/>
<ellipse cx="751.5" cy="303.6" rx="6" ry="6.3" fill="#f3e8c6" stroke="#382006" stroke-width="1.4"/><circle cx="751.5" cy="303.90000000000003" r="2.7" fill="#4e300c"/>
<ellipse cx="765.4" cy="312.5" rx="6" ry="6.3" fill="#f3e8c6" stroke="#382006" stroke-width="1.4"/><circle cx="765.4" cy="312.8" r="2.7" fill="#4e300c"/>
<ellipse cx="770.3" cy="327.4" rx="6" ry="6.3" fill="#f3e8c6" stroke="#382006" stroke-width="1.4"/><circle cx="770.3" cy="327.7" r="2.7" fill="#4e300c"/>
<ellipse cx="763.4" cy="339" rx="6" ry="6.3" fill="#f3e8c6" stroke="#382006" stroke-width="1.4"/><circle cx="763.4" cy="339.3" r="2.7" fill="#4e300c"/>
<ellipse cx="746.6" cy="333.3" rx="6" ry="6.3" fill="#f3e8c6" stroke="#382006" stroke-width="1.4"/><circle cx="746.6" cy="333.6" r="2.7" fill="#4e300c"/>
<ellipse cx="749.6" cy="317.5" rx="6" ry="6.3" fill="#f3e8c6" stroke="#382006" stroke-width="1.4"/><circle cx="749.6" cy="317.8" r="2.7" fill="#4e300c"/>
<ellipse cx="711" cy="329.3" rx="6" ry="6.3" fill="#f3e8c6" stroke="#382006" stroke-width="1.4"/><circle cx="711" cy="329.6" r="2.7" fill="#4e300c"/>
<ellipse cx="712.5" cy="343.5" rx="6" ry="6.3" fill="#f3e8c6" stroke="#382006" stroke-width="1.4"/><circle cx="712.5" cy="343.8" r="2.7" fill="#4e300c"/>
<ellipse cx="727.8" cy="347" rx="6" ry="6.3" fill="#f3e8c6" stroke="#382006" stroke-width="1.4"/><circle cx="727.8" cy="347.3" r="2.7" fill="#4e300c"/>
<ellipse cx="733" cy="322" rx="6" ry="6.3" fill="#f3e8c6" stroke="#382006" stroke-width="1.4"/><circle cx="733" cy="322.3" r="2.7" fill="#4e300c"/>
<circle cx="741.7" cy="377.8" r="5.6" fill="#7b5a1f"/><circle cx="741.7" cy="377.8" r="2.8" fill="#5f6a2c"/>
<circle cx="763.4" cy="389.7" r="5.6" fill="#7b5a1f"/><circle cx="763.4" cy="389.7" r="2.8" fill="#5f6a2c"/>
<circle cx="748.6" cy="397.6" r="5.6" fill="#7b5a1f"/><circle cx="748.6" cy="397.6" r="2.8" fill="#5f6a2c"/>
<circle cx="781.2" cy="424.3" r="5.6" fill="#7b5a1f"/><circle cx="781.2" cy="424.3" r="2.8" fill="#5f6a2c"/>
<circle cx="755.5" cy="434.2" r="5.6" fill="#7b5a1f"/><circle cx="755.5" cy="434.2" r="2.8" fill="#5f6a2c"/>
<circle cx="775.3" cy="549.6" r="27" fill="#e3e4d8" stroke="#454540" stroke-width="2.6"/>
<circle cx="775.3" cy="549.6" r="21" fill="none" stroke="#c9cabc" stroke-width="6" opacity=".7"/>
<path d="M750.3,541.6 Q763.3,547.6 773.3,545.6 M777.3,545.6 Q789.3,543.6 800.3,539.6 M753.3,563.6 Q765.3,555.6 775.3,555.6 M777.3,555.6 Q789.3,557.6 799.3,561.6" stroke="#77786a" stroke-width="2" fill="none"/>
<path d="M770.3,525.6 C766.3,541.6 766.3,557.6 771.3,571.6 L779.3,573.6 C783.3,557.6 783.3,541.6 778.3,524.6Z" fill="#3e3f34"/>
<circle cx="783.8" cy="536.3" r="4.8" fill="#f7f7f0" stroke="#55554a" stroke-width="1"/><circle cx="783.8" cy="536.3" r="1.5" fill="#2a2a2a"/>
<circle cx="760.8" cy="549.6" r="4.8" fill="#f7f7f0" stroke="#55554a" stroke-width="1"/><circle cx="760.8" cy="549.6" r="1.5" fill="#2a2a2a"/>
<circle cx="776.5" cy="549.6" r="4.8" fill="#f7f7f0" stroke="#55554a" stroke-width="1"/><circle cx="776.5" cy="549.6" r="1.5" fill="#2a2a2a"/>
<circle cx="783.8" cy="564" r="4.8" fill="#f7f7f0" stroke="#55554a" stroke-width="1"/><circle cx="783.8" cy="564" r="1.5" fill="#2a2a2a"/>
<polygon points="722.8,657.0 719.9,659.2 721.6,662.6 718.2,663.2 718.4,667.0 715.1,665.9 713.8,669.5 711.2,666.9 708.6,669.5 707.3,665.9 704.0,667.0 704.2,663.2 700.8,662.6 702.5,659.2 699.6,657.0 702.5,654.8 700.8,651.4 704.2,650.8 704.0,647.0 707.3,648.1 708.6,644.5 711.2,647.1 713.8,644.5 715.1,648.1 718.4,647.0 718.2,650.8 721.6,651.4 719.9,654.8" fill="#6b3f22"/>
<circle cx="711.2" cy="657" r="7.8" fill="#8a5a34"/>
<circle cx="708.6" cy="653.0" r="1.3" fill="#c9a27c"/>
<circle cx="710.2" cy="653.5" r="1.3" fill="#c9a27c"/>
<circle cx="706.9" cy="656.0" r="1.3" fill="#c9a27c"/>
<circle cx="715.4" cy="660.0" r="1.3" fill="#c9a27c"/>
<circle cx="713.9" cy="654.2" r="1.3" fill="#c9a27c"/>
<circle cx="711.6" cy="654.8" r="1.3" fill="#c9a27c"/>
<polygon points="748.2,647.5 745.3,649.7 747.0,653.1 743.6,653.7 743.8,657.5 740.5,656.4 739.2,660.0 736.6,657.4 734.0,660.0 732.7,656.4 729.4,657.5 729.6,653.7 726.2,653.1 727.9,649.7 725.0,647.5 727.9,645.3 726.2,641.9 729.6,641.3 729.4,637.5 732.7,638.6 734.0,635.0 736.6,637.6 739.2,635.0 740.5,638.6 743.8,637.5 743.6,641.3 747.0,641.9 745.3,645.3" fill="#6b3f22"/>
<circle cx="736.6" cy="647.5" r="7.8" fill="#8a5a34"/>
<circle cx="733.3" cy="643.6" r="1.3" fill="#c9a27c"/>
<circle cx="733.7" cy="651.8" r="1.3" fill="#c9a27c"/>
<circle cx="739.9" cy="650.6" r="1.3" fill="#c9a27c"/>
<circle cx="739.6" cy="644.4" r="1.3" fill="#c9a27c"/>
<circle cx="734.7" cy="648.8" r="1.3" fill="#c9a27c"/>
<circle cx="738.9" cy="651.0" r="1.3" fill="#c9a27c"/>
<polygon points="736.1,679.0 733.2,681.2 734.9,684.6 731.5,685.2 731.7,689.0 728.4,687.9 727.1,691.5 724.5,688.9 721.9,691.5 720.6,687.9 717.3,689.0 717.5,685.2 714.1,684.6 715.8,681.2 712.9,679.0 715.8,676.8 714.1,673.4 717.5,672.8 717.3,669.0 720.6,670.1 721.9,666.5 724.5,669.1 727.1,666.5 728.4,670.1 731.7,669.0 731.5,672.8 734.9,673.4 733.2,676.8" fill="#6b3f22"/>
<circle cx="724.5" cy="679" r="7.8" fill="#8a5a34"/>
<circle cx="728.3" cy="674.9" r="1.3" fill="#c9a27c"/>
<circle cx="725.6" cy="680.7" r="1.3" fill="#c9a27c"/>
<circle cx="724.6" cy="675.8" r="1.3" fill="#c9a27c"/>
<circle cx="724.2" cy="674.9" r="1.3" fill="#c9a27c"/>
<circle cx="728.8" cy="682.7" r="1.3" fill="#c9a27c"/>
<circle cx="725.0" cy="677.0" r="1.3" fill="#c9a27c"/>
<polygon points="762.6,669.0 759.7,671.2 761.4,674.6 758.0,675.2 758.2,679.0 754.9,677.9 753.6,681.5 751.0,678.9 748.4,681.5 747.1,677.9 743.8,679.0 744.0,675.2 740.6,674.6 742.3,671.2 739.4,669.0 742.3,666.8 740.6,663.4 744.0,662.8 743.8,659.0 747.1,660.1 748.4,656.5 751.0,659.1 753.6,656.5 754.9,660.1 758.2,659.0 758.0,662.8 761.4,663.4 759.7,666.8" fill="#6b3f22"/>
<circle cx="751" cy="669" r="7.8" fill="#8a5a34"/>
<circle cx="755.1" cy="669.7" r="1.3" fill="#c9a27c"/>
<circle cx="754.8" cy="672.5" r="1.3" fill="#c9a27c"/>
<circle cx="751.1" cy="668.1" r="1.3" fill="#c9a27c"/>
<circle cx="752.0" cy="668.3" r="1.3" fill="#c9a27c"/>
<circle cx="747.6" cy="667.1" r="1.3" fill="#c9a27c"/>
<circle cx="754.1" cy="664.4" r="1.3" fill="#c9a27c"/>
<path d="M659,716 C657,728 661,738 658.5,749.6" fill="none" stroke="#5d7d58" stroke-width="3" stroke-linecap="round"/>
<path d="M665,720 C663,732 667,742 666.5,749.7" fill="none" stroke="#5d7d58" stroke-width="3" stroke-linecap="round"/>
<path d="M672,722 C670,734 674,744 672.0,750.1" fill="none" stroke="#5d7d58" stroke-width="3" stroke-linecap="round"/>
<path d="M679,724 C677,736 681,746 677.3,762.8" fill="none" stroke="#5d7d58" stroke-width="3" stroke-linecap="round"/>
<path d="M685,726 C683,738 687,748 685.5,760.7" fill="none" stroke="#5d7d58" stroke-width="3" stroke-linecap="round"/>
<path d="M640,708 C655,712 672,718 692,722" fill="none" stroke="#4d7a2c" stroke-width="7.5" stroke-linecap="round"/>
<path d="M646,709 C658,713 674,718 690,721" fill="none" stroke="#a9c96a" stroke-width="2" stroke-dasharray="3 4"/>
<polygon points="644.7,702.0 645.3,706.6 644.2,711.6 640.0,714.4 636.1,717.6 631.0,716.1 626.5,715.7 622.8,713.3 618.4,711.1 614.6,707.3 615.1,702.0 615.2,696.9 618.8,693.2 621.3,688.7 626.7,688.8 631.0,687.3 636.0,686.6 640.6,688.7 643.3,693.1 644.2,697.7" fill="#456f30"/>
<circle cx="626.3" cy="696.2" r="2.4" fill="#6f9a4a"/>
<circle cx="625.0" cy="709.7" r="3.3" fill="#6f9a4a"/>
<circle cx="638.9" cy="708.9" r="2.2" fill="#6f9a4a"/>
<circle cx="629.5" cy="710.1" r="2.2" fill="#86ac5c"/>
<circle cx="621.1" cy="707.3" r="2.3" fill="#6f9a4a"/>
<circle cx="627.6" cy="709.8" r="2.2" fill="#6f9a4a"/>
<circle cx="631.0" cy="703.5" r="2.8" fill="#6f9a4a"/>
<circle cx="629.4" cy="700.0" r="3.0" fill="#6f9a4a"/>
<circle cx="635.0" cy="694.9" r="3.4" fill="#86ac5c"/>
<circle cx="640.2" cy="693.1" r="2.8" fill="#86ac5c"/>
<circle cx="638.0" cy="706.9" r="3.1" fill="#86ac5c"/>
<circle cx="641.0" cy="694.4" r="3.1" fill="#6f9a4a"/>
<circle cx="624.2" cy="702.1" r="3.1" fill="#86ac5c"/>
<circle cx="631.4" cy="703.3" r="3.0" fill="#2f5222"/>
<path d="M446,814 C448.3,826 447.6,834 445.9,844.3" fill="none" stroke="#7a3a20" stroke-width="3.2" stroke-linecap="round"/>
<path d="M454,814 C457.5,826 457.7,834 454.1,845.0" fill="none" stroke="#7a3a20" stroke-width="3.2" stroke-linecap="round"/>
<path d="M462,814 C458.8,826 456.0,834 461.2,849.1" fill="none" stroke="#7a3a20" stroke-width="3.2" stroke-linecap="round"/>
<path d="M470,814 C464.8,826 473.5,834 468.4,850.2" fill="none" stroke="#7a3a20" stroke-width="3.2" stroke-linecap="round"/>
<path d="M479,814 C473.5,826 485.0,834 480.4,845.3" fill="none" stroke="#7a3a20" stroke-width="3.2" stroke-linecap="round"/>
<path d="M487,814 C488.4,826 481.4,834 486.0,854.3" fill="none" stroke="#7a3a20" stroke-width="3.2" stroke-linecap="round"/>
<path d="M496,814 C491.4,826 501.4,834 495.2,849.0" fill="none" stroke="#7a3a20" stroke-width="3.2" stroke-linecap="round"/>
<path d="M505,814 C508.8,826 500.5,834 507.6,844.2" fill="none" stroke="#7a3a20" stroke-width="3.2" stroke-linecap="round"/>
<clipPath id="gbody"><path d="M478,768 C476,758 474,748 472,742 C470,736 462,734 452,734 C442,734 432,736 428,742 C426,750 430,760 431,770 C432,784 436,800 442,814 C456,822 470,818 484,822 C496,824 508,822 515,818 C517,806 520,796 523,788 C530,778 532,764 531,750 C531,740 528,732 520,731 C508,729 494,729 486,731 C482,736 482,748 481,756 C480,762 479,766 478,768Z"/></clipPath>
<path d="M478,768 C476,758 474,748 472,742 C470,736 462,734 452,734 C442,734 432,736 428,742 C426,750 430,760 431,770 C432,784 436,800 442,814 C456,822 470,818 484,822 C496,824 508,822 515,818 C517,806 520,796 523,788 C530,778 532,764 531,750 C531,740 528,732 520,731 C508,729 494,729 486,731 C482,736 482,748 481,756 C480,762 479,766 478,768Z" fill="#3f761a" stroke="#2c5212" stroke-width="1.4" stroke-linejoin="round"/>
<g clip-path="url(#gbody)">
<path d="M430,738 C444,732 462,732 472,740 C470,748 466,754 458,756 C448,752 438,754 432,760 C428,752 428,744 430,738Z" fill="#9dbb34" opacity=".8"/>
<path d="M486,731 C500,728 520,728 530,736 C534,750 534,766 528,780 C524,770 520,756 510,748 C500,744 490,744 484,748 C483,740 484,734 486,731Z" fill="#86ac2c" opacity=".75"/>
<path d="M432,786 C460,798 500,800 524,786 L516,824 L440,824Z" fill="#2a5410" opacity=".7"/>
<path d="M478,768 C474,780 472,790 474,800" stroke="#274a0e" stroke-width="3" fill="none" opacity=".6"/>
<circle cx="474.9" cy="781.9" r="2.0" fill="#8ab438" opacity=".7"/>
<circle cx="442.3" cy="792.5" r="2.2" fill="#72a22e" opacity=".7"/>
<circle cx="434.1" cy="748.6" r="2.6" fill="#356416" opacity=".7"/>
<circle cx="507.5" cy="801.7" r="2.4" fill="#356416" opacity=".7"/>
<circle cx="433.7" cy="782.7" r="2.4" fill="#8ab438" opacity=".7"/>
<circle cx="447.7" cy="816.8" r="3.0" fill="#8ab438" opacity=".7"/>
<circle cx="457.5" cy="819.7" r="2.3" fill="#274a0e" opacity=".7"/>
<circle cx="533.4" cy="766.3" r="1.4" fill="#2b4f10" opacity=".7"/>
<circle cx="443.2" cy="797.3" r="3.2" fill="#2b4f10" opacity=".7"/>
<circle cx="479.1" cy="781.7" r="2.7" fill="#72a22e" opacity=".7"/>
<circle cx="487.7" cy="760.0" r="3.2" fill="#2b4f10" opacity=".7"/>
<circle cx="445.5" cy="746.0" r="2.0" fill="#274a0e" opacity=".7"/>
<circle cx="463.4" cy="786.1" r="2.0" fill="#2b4f10" opacity=".7"/>
<circle cx="444.2" cy="816.8" r="1.7" fill="#8ab438" opacity=".7"/>
<circle cx="466.5" cy="794.2" r="2.6" fill="#356416" opacity=".7"/>
<circle cx="529.5" cy="768.3" r="3.2" fill="#356416" opacity=".7"/>
<circle cx="489.8" cy="813.0" r="2.3" fill="#8ab438" opacity=".7"/>
<circle cx="498.0" cy="818.0" r="1.8" fill="#4f8020" opacity=".7"/>
<circle cx="433.5" cy="805.7" r="2.8" fill="#8ab438" opacity=".7"/>
<circle cx="432.2" cy="757.1" r="2.9" fill="#356416" opacity=".7"/>
<circle cx="457.3" cy="769.4" r="1.7" fill="#2b4f10" opacity=".7"/>
<circle cx="520.0" cy="790.7" r="1.7" fill="#72a22e" opacity=".7"/>
<circle cx="506.6" cy="775.0" r="1.9" fill="#356416" opacity=".7"/>
<circle cx="482.8" cy="798.5" r="1.5" fill="#72a22e" opacity=".7"/>
<circle cx="523.1" cy="764.4" r="1.7" fill="#274a0e" opacity=".7"/>
<circle cx="490.9" cy="770.1" r="2.4" fill="#8ab438" opacity=".7"/>
<circle cx="459.3" cy="780.2" r="1.9" fill="#356416" opacity=".7"/>
<circle cx="427.1" cy="794.4" r="3.1" fill="#2b4f10" opacity=".7"/>
<circle cx="454.6" cy="760.7" r="1.8" fill="#4f8020" opacity=".7"/>
<circle cx="471.5" cy="794.2" r="2.8" fill="#72a22e" opacity=".7"/>
<circle cx="440.4" cy="738.9" r="1.6" fill="#2b4f10" opacity=".7"/>
<circle cx="495.3" cy="803.9" r="1.5" fill="#2b4f10" opacity=".7"/>
<circle cx="496.8" cy="741.9" r="2.4" fill="#274a0e" opacity=".7"/>
<circle cx="468.8" cy="813.5" r="2.5" fill="#72a22e" opacity=".7"/>
<circle cx="445.9" cy="765.5" r="2.7" fill="#4f8020" opacity=".7"/>
<circle cx="507.8" cy="786.8" r="2.3" fill="#356416" opacity=".7"/>
<circle cx="509.6" cy="804.3" r="1.4" fill="#8ab438" opacity=".7"/>
<circle cx="519.4" cy="767.4" r="2.4" fill="#356416" opacity=".7"/>
<circle cx="451.2" cy="820.6" r="2.5" fill="#356416" opacity=".7"/>
<circle cx="430.5" cy="766.6" r="2.0" fill="#274a0e" opacity=".7"/>
<circle cx="514.3" cy="805.5" r="2.3" fill="#4f8020" opacity=".7"/>
<circle cx="436.6" cy="786.5" r="2.3" fill="#356416" opacity=".7"/>
<circle cx="461.0" cy="778.6" r="1.9" fill="#4f8020" opacity=".7"/>
<circle cx="482.8" cy="782.7" r="1.5" fill="#274a0e" opacity=".7"/>
<circle cx="531.5" cy="763.4" r="2.0" fill="#8ab438" opacity=".7"/>
<circle cx="437.6" cy="737.2" r="1.5" fill="#8ab438" opacity=".7"/>
<circle cx="480.5" cy="819.0" r="2.6" fill="#356416" opacity=".7"/>
<circle cx="473.8" cy="778.6" r="2.1" fill="#8ab438" opacity=".7"/>
<circle cx="433.6" cy="732.3" r="2.6" fill="#2b4f10" opacity=".7"/>
<circle cx="452.7" cy="796.2" r="2.9" fill="#356416" opacity=".7"/>
<circle cx="472.1" cy="805.0" r="2.1" fill="#274a0e" opacity=".7"/>
<circle cx="478.6" cy="789.4" r="3.1" fill="#2b4f10" opacity=".7"/>
<circle cx="430.0" cy="746.2" r="2.1" fill="#4f8020" opacity=".7"/>
<circle cx="522.2" cy="803.3" r="2.5" fill="#4f8020" opacity=".7"/>
<circle cx="498.1" cy="810.7" r="2.7" fill="#356416" opacity=".7"/>
<circle cx="454.3" cy="775.2" r="2.3" fill="#274a0e" opacity=".7"/>
<circle cx="492.4" cy="807.5" r="3.1" fill="#2b4f10" opacity=".7"/>
<circle cx="443.5" cy="749.0" r="3.0" fill="#356416" opacity=".7"/>
<circle cx="441.7" cy="782.0" r="1.5" fill="#274a0e" opacity=".7"/>
<circle cx="493.0" cy="765.3" r="2.7" fill="#2b4f10" opacity=".7"/>
<circle cx="533.0" cy="745.6" r="2.2" fill="#356416" opacity=".7"/>
<circle cx="462.2" cy="790.3" r="2.6" fill="#274a0e" opacity=".7"/>
<circle cx="434.9" cy="732.7" r="2.3" fill="#72a22e" opacity=".7"/>
<circle cx="523.2" cy="777.7" r="1.8" fill="#356416" opacity=".7"/>
<circle cx="456.0" cy="765.6" r="3.1" fill="#8ab438" opacity=".7"/>
<circle cx="469.4" cy="773.3" r="2.6" fill="#356416" opacity=".7"/>
<circle cx="444.8" cy="766.2" r="1.9" fill="#72a22e" opacity=".7"/>
<circle cx="531.3" cy="750.2" r="2.0" fill="#356416" opacity=".7"/>
<circle cx="527.0" cy="796.2" r="1.4" fill="#4f8020" opacity=".7"/>
<circle cx="488.6" cy="767.4" r="2.2" fill="#8ab438" opacity=".7"/>
<circle cx="451.9" cy="730.7" r="2.4" fill="#2b4f10" opacity=".7"/>
<circle cx="531.1" cy="747.9" r="2.1" fill="#2b4f10" opacity=".7"/>
<circle cx="466.0" cy="742.7" r="2.8" fill="#8ab438" opacity=".7"/>
<circle cx="483.2" cy="734.6" r="1.7" fill="#8ab438" opacity=".7"/>
<circle cx="521.3" cy="753.0" r="2.4" fill="#4f8020" opacity=".7"/>
<circle cx="525.9" cy="813.1" r="1.4" fill="#4f8020" opacity=".7"/>
<circle cx="433.9" cy="771.0" r="2.9" fill="#356416" opacity=".7"/>
<circle cx="446.3" cy="735.6" r="2.9" fill="#4f8020" opacity=".7"/>
<circle cx="483.8" cy="776.2" r="2.6" fill="#356416" opacity=".7"/>
<circle cx="462.5" cy="755.4" r="2.0" fill="#274a0e" opacity=".7"/>
</g>
<ellipse cx="462" cy="778" rx="2.3" ry="2.9" fill="#dbe8b2" stroke="#3a5a18" stroke-width=".6"/>
<ellipse cx="470" cy="790" rx="2.3" ry="2.9" fill="#dbe8b2" stroke="#3a5a18" stroke-width=".6"/>
<ellipse cx="478" cy="782" rx="2.3" ry="2.9" fill="#dbe8b2" stroke="#3a5a18" stroke-width=".6"/>
<ellipse cx="486" cy="792" rx="2.3" ry="2.9" fill="#dbe8b2" stroke="#3a5a18" stroke-width=".6"/>
<ellipse cx="494" cy="784" rx="2.3" ry="2.9" fill="#dbe8b2" stroke="#3a5a18" stroke-width=".6"/>
<ellipse cx="458" cy="796" rx="2.3" ry="2.9" fill="#dbe8b2" stroke="#3a5a18" stroke-width=".6"/>
<ellipse cx="472" cy="806" rx="2.3" ry="2.9" fill="#dbe8b2" stroke="#3a5a18" stroke-width=".6"/>
<ellipse cx="484" cy="812" rx="2.3" ry="2.9" fill="#dbe8b2" stroke="#3a5a18" stroke-width=".6"/>
<ellipse cx="498" cy="810" rx="2.3" ry="2.9" fill="#dbe8b2" stroke="#3a5a18" stroke-width=".6"/>
<ellipse cx="510" cy="800" rx="2.3" ry="2.9" fill="#dbe8b2" stroke="#3a5a18" stroke-width=".6"/>
<ellipse cx="448" cy="806" rx="2.3" ry="2.9" fill="#dbe8b2" stroke="#3a5a18" stroke-width=".6"/>
<circle cx="294.0" cy="661.5" r="6.6" fill="#d6a273" stroke="#6a3a1c" stroke-width="1.5"/>
<circle cx="303.0" cy="670.0" r="6.6" fill="#d6a273" stroke="#6a3a1c" stroke-width="1.5"/>
<circle cx="314.0" cy="677.0" r="6.6" fill="#d6a273" stroke="#6a3a1c" stroke-width="1.5"/>
<circle cx="324.0" cy="683.5" r="6.6" fill="#d6a273" stroke="#6a3a1c" stroke-width="1.5"/>
<circle cx="333.6" cy="692.0" r="6.6" fill="#d6a273" stroke="#6a3a1c" stroke-width="1.5"/>
<circle cx="339.0" cy="703.0" r="6.6" fill="#d6a273" stroke="#6a3a1c" stroke-width="1.5"/>
<circle cx="336.0" cy="714.0" r="6.6" fill="#d6a273" stroke="#6a3a1c" stroke-width="1.5"/>
<circle cx="322.6" cy="720.0" r="6.6" fill="#d6a273" stroke="#6a3a1c" stroke-width="1.5"/>
<circle cx="309.5" cy="718.7" r="6.6" fill="#d6a273" stroke="#6a3a1c" stroke-width="1.5"/>
<circle cx="300.6" cy="710.0" r="6.6" fill="#d6a273" stroke="#6a3a1c" stroke-width="1.5"/>
<circle cx="294.0" cy="699.0" r="6.6" fill="#d6a273" stroke="#6a3a1c" stroke-width="1.5"/>
<circle cx="287.5" cy="688.0" r="6.6" fill="#d6a273" stroke="#6a3a1c" stroke-width="1.5"/>
<circle cx="276.0" cy="681.0" r="6.6" fill="#d6a273" stroke="#6a3a1c" stroke-width="1.5"/>
<circle cx="294.0" cy="661.5" r="2.4" fill="#8a3a22"/>
<circle cx="303.0" cy="670.0" r="2.4" fill="#8a3a22"/>
<circle cx="314.0" cy="677.0" r="2.4" fill="#8a3a22"/>
<circle cx="324.0" cy="683.5" r="2.4" fill="#8a3a22"/>
<circle cx="333.6" cy="692.0" r="2.4" fill="#8a3a22"/>
<circle cx="339.0" cy="703.0" r="2.4" fill="#8a3a22"/>
<circle cx="336.0" cy="714.0" r="2.4" fill="#8a3a22"/>
<circle cx="322.6" cy="720.0" r="2.4" fill="#8a3a22"/>
<circle cx="309.5" cy="718.7" r="2.4" fill="#8a3a22"/>
<circle cx="300.6" cy="710.0" r="2.4" fill="#8a3a22"/>
<circle cx="294.0" cy="699.0" r="2.4" fill="#8a3a22"/>
<circle cx="287.5" cy="688.0" r="2.4" fill="#8a3a22"/>
<circle cx="276.0" cy="681.0" r="2.4" fill="#8a3a22"/>
<path d="M307,699 C306,690 316,687 322,690 C330,692 330,704 324,707 C316,711 308,707 307,699Z" fill="#e3b88c" stroke="#6a3a1c" stroke-width="1.5"/><circle cx="318" cy="700" r="3.6" fill="#7a2a1c"/><path d="M311,694 q4,-4 8,-1" stroke="#8a4a2a" fill="none" stroke-width="1.2"/>
<path d="M249,744 C246,733 256,728 266,730 C276,727 290,733 292,746 C293,750 293,753 292,756 C298,752 308,753 311,760 C314,768 312,778 306,781 L290,785 C286,794 276,799 266,798 C256,798 252,790 255,782 C257,778 260,776 262,774 C254,766 250,754 249,744Z" fill="#d39868" stroke="#6a3418" stroke-width="1.7"/>
<path d="M262,746 C268,738 282,740 285,752 C288,764 280,772 270,769 C262,764 258,754 262,746Z" fill="#efd2b6" stroke="#7a4020" stroke-width="1.2"/>
<path d="M266,748 q4,-3 7,1 q-5,3 -1,6 q6,1 6,8 M276,746 q4,2 3,8 M268,760 q3,3 6,2" fill="none" stroke="#a0302a" stroke-width="1.5"/>
<path d="M292,756 C292,766 291,776 290,785 M262,774 C270,780 282,778 291,770 M275,780 L279,797 M301,754 L302,782 M256,736 C262,740 264,744 262,748 M284,734 C282,740 282,744 285,750" fill="none" stroke="#6a3418" stroke-width="1.2"/>
<circle cx="255" cy="740" r="2.3" fill="#7a2e16"/>
<circle cx="268" cy="734" r="2.3" fill="#7a2e16"/>
<circle cx="287" cy="741" r="2.3" fill="#7a2e16"/>
<circle cx="253" cy="758" r="2.3" fill="#7a2e16"/>
<circle cx="263" cy="788" r="2.3" fill="#7a2e16"/>
<circle cx="284" cy="790" r="2.3" fill="#7a2e16"/>
<circle cx="305" cy="766" r="2.3" fill="#7a2e16"/>
<circle cx="297" cy="776" r="2.3" fill="#7a2e16"/>
<circle cx="272" cy="776" r="2.3" fill="#7a2e16"/>
<circle cx="283" cy="766" r="2.3" fill="#7a2e16"/>
<path d="M252,742 C256,734 266,732 274,733" fill="none" stroke="#eec49c" stroke-width="2" opacity=".8"/>
<path d="M205.0,653.7 Q191.4,661.1 183.6,661.0 M210.2,641.5 Q200.8,635.8 204.6,633.4 M211.9,645.8 Q208.1,640.4 209.5,625.2 M216.7,651.9 Q219.9,655.7 235.4,650.7 M214.7,649.6 Q221.8,648.9 227.3,635.4 M213.4,669.3 Q216.9,689.8 216.4,715.7 M218.7,665.1 Q231.0,671.9 229.4,688.8 M214.7,640.3 Q210.6,629.3 220.0,621.8 M218.4,661.2 Q230.7,669.3 230.1,680.8 M213.1,638.6 Q213.9,640.8 213.1,630.2 M207.3,654.1 Q202.6,653.5 189.9,661.5 M207.4,647.6 Q194.4,646.7 191.7,641.5 M216.0,650.5 Q227.8,650.4 228.2,648.0 M211.6,663.2 Q206.9,688.5 206.5,714.6 M211.1,670.6 Q206.2,686.5 206.5,714.2 M219.5,654.5 Q224.7,662.4 228.1,665.1 M206.5,665.1 Q198.6,679.5 188.2,697.0 M213.4,665.6 Q209.5,680.1 216.5,702.7 M215.1,644.6 Q225.3,640.6 223.8,627.8 M219.3,661.6 Q227.4,675.0 227.9,678.9 M209.2,645.9 Q198.7,644.1 199.7,638.3 M212.3,669.6 Q207.0,685.3 211.1,706.7 M211.1,643.1 Q208.7,636.1 206.6,627.6" fill="none" stroke="#e2c79a" stroke-width="1.1" opacity=".9"/>
<path d="M206.8,654.8 Q198.6,655.1 183.4,663.0 M210.4,664.6 Q199.2,688.1 201.2,704.8 M207.3,650.9 Q194.4,650.3 186.3,647.5 M217.2,650.1 Q222.4,656.5 231.3,648.9 M212.1,645.2 Q212.7,636.7 210.6,627.7 M208.1,654.6 Q200.4,661.8 187.1,661.6 M207.0,659.9 Q198.3,670.3 188.6,681.4 M216.3,656.8 Q231.1,663.9 236.8,671.9 M212.1,646.3 Q211.4,640.5 210.3,629.2 M217.3,658.2 Q228.1,674.3 235.8,676.6 M218.1,666.5 Q217.8,681.9 230.8,696.2 M212.2,646.2 Q216.7,638.6 211.4,622.8 M209.0,659.4 Q194.9,673.7 189.4,687.0 M211.4,667.3 Q213.8,695.9 207.2,711.2 M209.5,660.1 Q197.2,680.8 189.5,694.3 M213.5,649.4 Q214.7,635.8 221.9,627.2 M209.1,667.8 Q204.4,681.4 199.8,701.1 M215.0,663.2 Q218.4,677.6 227.1,700.3 M209.3,663.3 Q204.8,679.9 192.2,706.2 M210.6,668.0 Q205.6,689.1 203.8,709.6 M212.2,647.0 Q207.2,636.1 211.5,624.3 M209.1,671.4 Q210.7,690.9 199.4,713.0 M209.1,649.8 Q204.4,642.4 191.9,637.0" fill="none" stroke="#dba58a" stroke-width="1.1" opacity=".85"/>
<path d="M219,642 C209,639 203,648 210,653 C218,657 219,663 211,666 C203,669 204,679 212,678 C217,677 217,671 213,670" fill="none" stroke="#9a2428" stroke-width="5.6" stroke-linecap="round"/>
<path d="M217,643.5 C211,642 207,648 212,651.5" fill="none" stroke="#d4605a" stroke-width="1.6" stroke-linecap="round"/>
<circle cx="244.6" cy="626.6" r="12.3" fill="#b06a78" stroke="#7a3c4a" stroke-width="1.4"/><circle cx="245.6" cy="626.6" r="6.8" fill="#d9a3ac"/><circle cx="246.1" cy="626.1" r="3" fill="#7a4a7a"/>
<circle cx="190.5" cy="463.5" r="15.4" fill="#d9b08c" stroke="#8a5a3c" stroke-width="1.8"/><circle cx="190.5" cy="464.0" r="10.5" fill="#ecd3bd"/><path d="M181.5,466.5 q9,11 19,-1 q-9,6 -19,1Z" fill="#b3261e" stroke="#b3261e" stroke-width="2.4"/><circle cx="189.5" cy="457.5" r="5" fill="#8a78b8"/><circle cx="189.5" cy="457.5" r="2.2" fill="#34348a"/><path d="M177.5,459.5 q3,-9 12,-11" fill="none" stroke="#7a6a5a" stroke-width="2" opacity=".7"/>
<path d="M203,509 H776" stroke="#111" stroke-width="3.7" stroke-dasharray="15 18"/>
<path d="M286.0,297.0 C308.0,264.0 346.0,242.0 396.0,233.1" fill="none" stroke="#0d0d0d" stroke-width="4.1" stroke-linecap="round"/><polygon points="404.5,231.0 395.3,245.7 389.5,222.4" fill="#0d0d0d"/>
<path d="M191.0,441.0 C196.0,414.0 207.0,392.0 231.8,368.2" fill="none" stroke="#0d0d0d" stroke-width="4.1" stroke-linecap="round"/><polygon points="237.4,361.5 238.6,378.8 220.2,363.4" fill="#0d0d0d"/>
<path d="M619.0,251.0 C648.0,258.0 672.0,274.0 690.8,295.4" fill="none" stroke="#0d0d0d" stroke-width="4.1" stroke-linecap="round"/><polygon points="697.0,301.6 679.7,301.2 696.6,284.3" fill="#0d0d0d"/>
<path d="M761.0,407.0 C773.0,436.0 781.0,468.0 782.3,506.5" fill="none" stroke="#0d0d0d" stroke-width="4.1" stroke-linecap="round"/><polygon points="782.3,515.3 770.3,502.8 794.3,502.8" fill="#0d0d0d"/>
<path d="M780.0,589.0 C781.0,604.0 776.0,616.0 758.3,628.0" fill="none" stroke="#0d0d0d" stroke-width="4.1" stroke-linecap="round"/><polygon points="750.7,632.4 755.5,615.8 767.5,636.5" fill="#0d0d0d"/>
<path d="M714.5,691.0 C707.0,698.0 700.0,703.0 686.3,709.2" fill="none" stroke="#0d0d0d" stroke-width="4.1" stroke-linecap="round"/><polygon points="678.6,713.3 684.0,696.8 695.3,718.0" fill="#0d0d0d"/>
<path d="M630.0,754.0 C606.0,770.0 582.0,780.0 547.0,788.8" fill="none" stroke="#0d0d0d" stroke-width="4.1" stroke-linecap="round"/><polygon points="538.5,790.8 548.0,776.3 553.4,799.7" fill="#0d0d0d"/>
<path d="M458.0,771.0 C420.0,764.0 386.0,748.0 357.0,724.1" fill="none" stroke="#0d0d0d" stroke-width="4.1" stroke-linecap="round"/><polygon points="350.0,718.8 367.2,716.7 352.8,735.9" fill="#0d0d0d"/>
<path d="M454.0,809.0 C404.0,813.0 360.0,806.0 312.3,788.7" fill="none" stroke="#0d0d0d" stroke-width="4.1" stroke-linecap="round"/><polygon points="304.0,786.0 319.6,778.5 312.2,801.3" fill="#0d0d0d"/>
<path d="M287.0,667.0 C280.0,661.5 273.0,656.0 261.4,646.5" fill="none" stroke="#0d0d0d" stroke-width="4.8" stroke-linecap="round"/><polygon points="254.6,641.0 271.9,639.5 256.8,658.2" fill="#0d0d0d"/>
<path d="M254.0,725.0 C249.0,719.5 244.0,714.5 236.7,706.6" fill="none" stroke="#0d0d0d" stroke-width="4.8" stroke-linecap="round"/><polygon points="230.6,700.3 247.9,701.0 230.7,717.6" fill="#0d0d0d"/>
<path d="M195,616 C186,572 184,532 189,494" fill="none" stroke="#0d0d0d" stroke-width="4.1" stroke-linecap="round"/>
<path d="M234.0,606.0 C212.0,570.0 198.0,534.0 190.6,492.1" fill="none" stroke="#0d0d0d" stroke-width="4.1" stroke-linecap="round"/><polygon points="190.6,483.3 202.6,495.8 178.6,495.8" fill="#0d0d0d"/>
<text x="307.0" y="82.2" font-size="19.8" fill="#1c1c1c" textLength="357.5" lengthAdjust="spacingAndGlyphs" stroke="#1c1c1c" stroke-width="0.8">ЖИЗНЕННЫЙ ЦИКЛ ПАПОРОТНИКА</text>
<text x="399.6" y="148.0" font-size="20.4" fill="#1c1c1c" textLength="74.0" lengthAdjust="spacingAndGlyphs" stroke="#1c1c1c" stroke-width="0.8">Зрелый</text>
<text x="390.0" y="171.6" font-size="20.4" fill="#1c1c1c" textLength="93.0" lengthAdjust="spacingAndGlyphs" stroke="#1c1c1c" stroke-width="0.8">спорофит</text>
<text x="127.5" y="313.6" font-size="20.4" fill="#1c1c1c" textLength="91.5" lengthAdjust="spacingAndGlyphs" stroke="#1c1c1c" stroke-width="0.8">Молодой</text>
<text x="128.2" y="337.8" font-size="20.4" fill="#1c1c1c" textLength="91.0" lengthAdjust="spacingAndGlyphs" stroke="#1c1c1c" stroke-width="0.8">спорофит</text>
<text x="638.0" y="416.8" font-size="20.4" fill="#1c1c1c" textLength="104.5" lengthAdjust="spacingAndGlyphs" stroke="#1c1c1c" stroke-width="0.8">Спорангий</text>
<text x="7.3" y="441.2" font-size="20.4" fill="#1c1c1c" textLength="174.2" lengthAdjust="spacingAndGlyphs" stroke="#1c1c1c" stroke-width="0.8">Оплодотворенная</text>
<text x="43.0" y="464.4" font-size="20.4" fill="#1c1c1c" textLength="110.4" lengthAdjust="spacingAndGlyphs" stroke="#1c1c1c" stroke-width="0.8">яйцеклетка</text>
<text x="59.4" y="487.6" font-size="20.4" fill="#1c1c1c" textLength="77.6" lengthAdjust="spacingAndGlyphs" stroke="#1c1c1c" stroke-width="0.8">(зигота)</text>
<text x="214.0" y="499.6" font-size="18.6" fill="#1c1c1c" textLength="244.5" lengthAdjust="spacingAndGlyphs" stroke="#1c1c1c" stroke-width="0.8">БЕСПОЛОЕ ПОКОЛЕНИЕ</text>
<text x="502.0" y="535.6" font-size="18.6" fill="#1c1c1c" textLength="234.0" lengthAdjust="spacingAndGlyphs" stroke="#1c1c1c" stroke-width="0.8">ПОЛОВОЕ ПОКОЛЕНИЕ</text>
<text x="653.3" y="569.0" font-size="20.4" fill="#1c1c1c" textLength="77.3" lengthAdjust="spacingAndGlyphs" stroke="#1c1c1c" stroke-width="0.8">Тетрада</text>
<text x="618.0" y="590.4" font-size="20.4" fill="#1c1c1c" textLength="146.0" lengthAdjust="spacingAndGlyphs" stroke="#1c1c1c" stroke-width="0.8">незрелых спор</text>
<text x="762.3" y="658.0" font-size="20.4" fill="#1c1c1c" textLength="138.7" lengthAdjust="spacingAndGlyphs" stroke="#1c1c1c" stroke-width="0.8">Зрелые споры</text>
<text x="700.8" y="740.4" font-size="20.4" fill="#1c1c1c" textLength="84.2" lengthAdjust="spacingAndGlyphs" stroke="#1c1c1c" stroke-width="0.8">Молодой</text>
<text x="695.5" y="762.6" font-size="20.4" fill="#1c1c1c" textLength="102.0" lengthAdjust="spacingAndGlyphs" stroke="#1c1c1c" stroke-width="0.8">гаметофит</text>
<text x="243.8" y="609.2" font-size="20.4" fill="#1c1c1c" textLength="110.6" lengthAdjust="spacingAndGlyphs" stroke="#1c1c1c" stroke-width="0.8">Яйцеклетка</text>
<text x="39.0" y="663.0" font-size="20.4" fill="#1c1c1c" textLength="141.7" lengthAdjust="spacingAndGlyphs" stroke="#1c1c1c" stroke-width="0.8">Сперматозоид</text>
<text x="313.0" y="665.0" font-size="20.4" fill="#1c1c1c" textLength="100.8" lengthAdjust="spacingAndGlyphs" stroke="#1c1c1c" stroke-width="0.8">Архегоний</text>
<text x="438.5" y="697.0" font-size="20.4" fill="#1c1c1c" textLength="72.5" lengthAdjust="spacingAndGlyphs" stroke="#1c1c1c" stroke-width="0.8">Зрелый</text>
<text x="425.8" y="718.0" font-size="20.4" fill="#1c1c1c" textLength="104.6" lengthAdjust="spacingAndGlyphs" stroke="#1c1c1c" stroke-width="0.8">гаметофит</text>
<text x="144.9" y="783.0" font-size="20.4" fill="#1c1c1c" textLength="103.9" lengthAdjust="spacingAndGlyphs" stroke="#1c1c1c" stroke-width="0.8">Антеридий</text>
</g>
<defs><filter id="soft" x="0" y="58" width="910" height="814" filterUnits="userSpaceOnUse"><feGaussianBlur stdDeviation="0.7"/></filter></defs>
<circle cx="58" cy="113.8" r="31.6" fill="#b3b3b3"/><path d="M43.6,99.4 L72.4,128.2 M72.4,99.4 L43.6,128.2" stroke="#f4f4f4" stroke-width="4.6"/>
</svg></div>
<div class="gap"></div>
<div class="info"></div>
<div class="t " style="left:41.0px;top:916.2px;font-size:37px;line-height:37px;letter-spacing:-0.424px;color:#505050;">files.school-collection.edu.ru</div>
<div class="t " style="left:41.0px;top:1004.8px;font-size:29.8px;line-height:29.8px;letter-spacing:0.734px;color:#9c9c9c;">Изображения могут быть защищены авторским правом.</div>
<div class="hr"></div>
<svg width="60" height="60" viewBox="0 0 60 60" style="left:43px;top:1108px">
<circle cx="30" cy="30" r="25" fill="#505050"/>
<path d="M27.5 49.8 C17.6 48.6 10 40.2 10 30 c0-1.55.2-3.02.52-4.47 L22.5 37.5 v2.5 c0 2.75 2.25 5 5 5 Z M44.75 43.45 C44.1 41.42 42.25 40 40 40 h-2.5 v-7.5 c0-1.37-1.12-2.5-2.5-2.5 H20 v-5 h5 c1.37 0 2.5-1.12 2.5-2.5 V17.5 h5 c2.75 0 5-2.25 5-5 v-1.02 C44.82 14.45 50 21.63 50 30 c0 5.2-2 9.92-5.25 13.45 Z" fill="#fff"/>
</svg>
<div class="t " style="left:165.5px;top:1119.2px;font-size:34.6px;line-height:34.6px;letter-spacing:0.233px;color:#505050;">Перейти</div>
<div class="related"><svg width="910" height="402" viewBox="0 1216 910 402">
<defs><filter id="soft2" x="0" y="1216" width="910" height="402" filterUnits="userSpaceOnUse"><feGaussianBlur stdDeviation="0.55"/></filter></defs>
<g filter="url(#soft2)">
<g fill="none" stroke="#6a6a6a" stroke-width="1.1"><path d="M80.2,1392.6 V1507.5"/><path d="M112,1385 L153.5,1349 L201,1356"/><path d="M117,1448 L142,1452 L161.7,1444.8"/><path d="M214.5,1418 L255.8,1414"/><path d="M247.5,1465 L244,1481 L287,1509.8"/><path d="M280,1463 L330,1476 L346,1502"/></g>
<path d="M204,1349 C214,1340 232,1336 250.5,1342.5 C244,1352 236,1362 224,1366 L212,1368.5 L210.5,1361 L207,1362 L206,1354 L203,1354 Z" fill="#d9a06a" stroke="#5a3c22" stroke-width="1.4" stroke-linejoin="round"/>
<ellipse cx="198.5" cy="1378.5" rx="7.5" ry="4.6" transform="rotate(35 198.5 1378.5)" fill="#4c7c22" stroke="#2e4e12" stroke-width="1"/>
<path d="M178,1386.5 L191,1396 L183,1412 C180,1416 176,1416 172,1413 L165.5,1402 Z" fill="#5cb62a" stroke="#2f6a14" stroke-width="1.4" stroke-linejoin="round"/>
<path d="M178,1388 L190,1396.5 L186,1403 L174.5,1394Z" fill="#3f8a1e"/>
<path d="M173,1413 C168,1424 164,1434 162,1445" fill="none" stroke="#5cb62a" stroke-width="3.4" stroke-linecap="round"/>
<circle cx="199" cy="1407" r="1.1" fill="#e0506a"/>
<circle cx="203" cy="1412" r="1.1" fill="#e0506a"/>
<circle cx="197" cy="1418" r="1.1" fill="#e0506a"/>
<circle cx="206" cy="1419" r="1.1" fill="#e0506a"/>
<circle cx="201" cy="1425" r="1.1" fill="#e0506a"/>
<circle cx="210" cy="1427" r="1.1" fill="#e0506a"/>
<circle cx="214" cy="1421" r="1.1" fill="#e0506a"/>
<circle cx="205" cy="1416" r="1.1" fill="#e0506a"/>
<circle cx="231" cy="1441.5" r="6.8" fill="#aacd22" stroke="#6f9c14" stroke-width="1.4"/>
<circle cx="255.5" cy="1457" r="6.4" fill="#aacd22" stroke="#6f9c14" stroke-width="1.4"/>
<path d="M259,1452 C266,1448 272,1452 273.5,1464" fill="none" stroke="#9ac21e" stroke-width="3.6" stroke-linecap="round"/>
<path d="M98.5,1396 C104,1390 114,1392 118,1400 C121,1406 123,1412 122.5,1417 C114,1413 104,1408 98.5,1396Z" fill="#cf9766" stroke="#5a3c22" stroke-width="1.2"/>
<path d="M99,1398 C94,1420 108,1450 112,1480 C113,1495 110.5,1510 108.5,1525" fill="none" stroke="#7a5636" stroke-width="1.8"/>
<path d="M105.9,1518.0 L98.0,1624.0" stroke="#b8c878" stroke-width="2.6" fill="none"/>
<path d="M98.0,1624.0 Q95.5,1618.8 92.5,1612.8 Q92.1,1620.5 98.0,1624.0Z" fill="#94d858"/>
<path d="M98.0,1624.0 Q94.7,1620.2 91.5,1616.5 Q91.8,1622.7 98.0,1624.0Z" fill="#74c236"/>
<path d="M98.0,1624.0 Q103.8,1620.3 103.2,1612.7 Q100.4,1618.8 98.0,1624.0Z" fill="#94d858"/>
<path d="M98.0,1624.0 Q104.3,1622.9 104.9,1616.8 Q101.6,1620.3 98.0,1624.0Z" fill="#62b02c"/>
<path d="M98.4,1618.5 Q91.9,1613.5 86.1,1609.1 Q89.6,1616.5 98.4,1618.5Z" fill="#86d046"/>
<path d="M98.4,1618.5 Q94.1,1613.9 90.0,1609.4 Q91.3,1616.4 98.4,1618.5Z" fill="#62b02c"/>
<path d="M98.4,1618.5 Q105.7,1614.2 106.8,1605.5 Q102.5,1612.2 98.4,1618.5Z" fill="#86d046"/>
<path d="M98.4,1618.5 Q106.1,1617.7 108.6,1611.4 Q103.9,1614.6 98.4,1618.5Z" fill="#62b02c"/>
<path d="M98.8,1613.0 Q92.3,1609.0 86.8,1605.8 Q90.3,1612.2 98.8,1613.0Z" fill="#62b02c"/>
<path d="M98.8,1613.0 Q93.9,1609.4 89.7,1606.4 Q91.6,1612.4 98.8,1613.0Z" fill="#86d046"/>
<path d="M98.8,1613.0 Q105.3,1609.0 105.5,1600.7 Q102.0,1607.1 98.8,1613.0Z" fill="#62b02c"/>
<path d="M98.8,1613.0 Q105.7,1611.8 107.0,1605.4 Q103.1,1609.0 98.8,1613.0Z" fill="#62b02c"/>
<path d="M99.2,1607.5 Q93.9,1602.4 88.9,1597.7 Q91.2,1605.2 99.2,1607.5Z" fill="#94d858"/>
<path d="M99.2,1607.5 Q95.3,1603.2 91.6,1599.1 Q92.5,1605.8 99.2,1607.5Z" fill="#86d046"/>
<path d="M99.2,1607.5 Q106.0,1603.7 106.7,1595.5 Q102.8,1601.7 99.2,1607.5Z" fill="#62b02c"/>
<path d="M99.2,1607.5 Q104.9,1604.4 104.1,1597.3 Q101.4,1602.8 99.2,1607.5Z" fill="#62b02c"/>
<path d="M99.6,1602.0 Q95.7,1596.1 91.6,1590.0 Q92.5,1598.2 99.6,1602.0Z" fill="#62b02c"/>
<path d="M99.6,1602.0 Q94.4,1598.4 90.0,1595.5 Q92.2,1601.5 99.6,1602.0Z" fill="#86d046"/>
<path d="M99.6,1602.0 Q107.1,1598.7 108.6,1590.7 Q104.1,1596.4 99.6,1602.0Z" fill="#62b02c"/>
<path d="M99.6,1602.0 Q106.2,1599.9 106.9,1593.0 Q103.3,1597.5 99.6,1602.0Z" fill="#86d046"/>
<path d="M100.0,1596.5 Q95.8,1589.9 91.4,1582.9 Q92.6,1591.9 100.0,1596.5Z" fill="#74c236"/>
<path d="M100.0,1596.5 Q97.5,1591.1 94.5,1584.9 Q94.0,1592.7 100.0,1596.5Z" fill="#94d858"/>
<path d="M100.0,1596.5 Q108.7,1593.6 111.8,1585.5 Q106.1,1590.8 100.0,1596.5Z" fill="#62b02c"/>
<path d="M100.0,1596.5 Q107.2,1594.3 108.7,1587.0 Q104.5,1591.7 100.0,1596.5Z" fill="#94d858"/>
<path d="M100.4,1591.0 Q96.2,1583.0 91.6,1574.3 Q92.8,1584.8 100.4,1591.0Z" fill="#86d046"/>
<path d="M100.4,1591.0 Q97.5,1584.6 94.1,1577.3 Q94.0,1586.1 100.4,1591.0Z" fill="#86d046"/>
<path d="M100.4,1591.0 Q110.1,1587.2 114.2,1578.3 Q107.5,1584.4 100.4,1591.0Z" fill="#94d858"/>
<path d="M100.4,1591.0 Q107.6,1586.9 108.6,1578.4 Q104.4,1584.8 100.4,1591.0Z" fill="#62b02c"/>
<path d="M100.8,1585.5 Q94.2,1579.1 88.0,1573.0 Q91.6,1581.8 100.8,1585.5Z" fill="#86d046"/>
<path d="M100.8,1585.5 Q94.2,1581.3 88.6,1578.0 Q92.2,1584.5 100.8,1585.5Z" fill="#74c236"/>
<path d="M100.8,1585.5 Q110.7,1583.2 115.5,1575.4 Q108.6,1580.1 100.8,1585.5Z" fill="#86d046"/>
<path d="M100.8,1585.5 Q107.8,1581.7 108.6,1573.5 Q104.6,1579.7 100.8,1585.5Z" fill="#86d046"/>
<path d="M101.2,1580.0 Q93.5,1575.4 87.0,1571.6 Q91.6,1578.6 101.2,1580.0Z" fill="#62b02c"/>
<path d="M101.2,1580.0 Q96.8,1574.9 92.6,1570.0 Q94.0,1577.4 101.2,1580.0Z" fill="#74c236"/>
<path d="M101.2,1580.0 Q109.1,1575.7 110.9,1566.7 Q106.0,1573.4 101.2,1580.0Z" fill="#74c236"/>
<path d="M101.2,1580.0 Q109.3,1579.3 112.3,1573.0 Q107.2,1576.1 101.2,1580.0Z" fill="#62b02c"/>
<path d="M101.6,1574.5 Q92.5,1569.2 84.5,1564.8 Q90.6,1572.5 101.6,1574.5Z" fill="#74c236"/>
<path d="M101.6,1574.5 Q97.1,1568.2 92.6,1561.6 Q94.0,1570.4 101.6,1574.5Z" fill="#62b02c"/>
<path d="M101.6,1574.5 Q112.5,1572.6 118.6,1564.9 Q110.7,1569.2 101.6,1574.5Z" fill="#94d858"/>
<path d="M101.6,1574.5 Q110.6,1573.0 114.6,1565.8 Q108.5,1569.8 101.6,1574.5Z" fill="#74c236"/>
<path d="M102.0,1569.0 Q97.8,1561.8 93.4,1554.0 Q94.5,1563.7 102.0,1569.0Z" fill="#94d858"/>
<path d="M102.0,1569.0 Q98.2,1563.4 94.3,1557.5 Q95.1,1565.5 102.0,1569.0Z" fill="#62b02c"/>
<path d="M102.0,1569.0 Q110.2,1564.5 112.4,1555.3 Q107.2,1562.2 102.0,1569.0Z" fill="#86d046"/>
<path d="M102.0,1569.0 Q109.0,1565.7 109.9,1557.7 Q105.9,1563.5 102.0,1569.0Z" fill="#74c236"/>
<path d="M102.4,1563.5 Q96.7,1556.9 91.2,1550.3 Q93.8,1559.3 102.4,1563.5Z" fill="#62b02c"/>
<path d="M102.4,1563.5 Q96.4,1559.0 91.3,1555.2 Q94.2,1562.1 102.4,1563.5Z" fill="#62b02c"/>
<path d="M102.4,1563.5 Q112.4,1562.3 117.6,1555.4 Q110.6,1559.0 102.4,1563.5Z" fill="#74c236"/>
<path d="M102.4,1563.5 Q109.7,1560.6 111.2,1552.8 Q106.8,1558.2 102.4,1563.5Z" fill="#86d046"/>
<path d="M102.8,1558.0 Q98.6,1550.8 94.1,1543.2 Q95.3,1552.8 102.8,1558.0Z" fill="#74c236"/>
<path d="M102.8,1558.0 Q100.1,1552.2 97.1,1545.5 Q96.7,1553.7 102.8,1558.0Z" fill="#86d046"/>
<path d="M102.8,1558.0 Q111.7,1554.6 115.0,1546.1 Q109.1,1551.9 102.8,1558.0Z" fill="#86d046"/>
<path d="M102.8,1558.0 Q110.5,1555.8 112.7,1548.5 Q107.9,1553.1 102.8,1558.0Z" fill="#94d858"/>
<path d="M103.1,1552.5 Q98.3,1545.5 93.3,1538.3 Q95.1,1547.7 103.1,1552.5Z" fill="#74c236"/>
<path d="M103.1,1552.5 Q100.2,1546.7 96.9,1540.2 Q96.8,1548.4 103.1,1552.5Z" fill="#62b02c"/>
<path d="M103.1,1552.5 Q112.7,1550.0 117.0,1542.1 Q110.4,1547.0 103.1,1552.5Z" fill="#94d858"/>
<path d="M103.1,1552.5 Q111.1,1550.5 113.4,1543.2 Q108.5,1547.7 103.1,1552.5Z" fill="#86d046"/>
<path d="M103.5,1547.0 Q99.4,1540.3 95.1,1533.3 Q96.2,1542.3 103.5,1547.0Z" fill="#94d858"/>
<path d="M103.5,1547.0 Q99.2,1542.1 95.0,1537.4 Q96.3,1544.6 103.5,1547.0Z" fill="#86d046"/>
<path d="M103.5,1547.0 Q111.6,1543.1 113.7,1534.5 Q108.6,1540.7 103.5,1547.0Z" fill="#86d046"/>
<path d="M103.5,1547.0 Q111.1,1545.3 113.1,1538.4 Q108.6,1542.5 103.5,1547.0Z" fill="#94d858"/>
<path d="M103.9,1541.5 Q98.2,1535.2 92.7,1529.0 Q95.4,1537.7 103.9,1541.5Z" fill="#74c236"/>
<path d="M103.9,1541.5 Q101.5,1535.8 98.6,1529.2 Q98.0,1537.3 103.9,1541.5Z" fill="#62b02c"/>
<path d="M103.9,1541.5 Q111.5,1536.5 112.8,1527.2 Q108.2,1534.5 103.9,1541.5Z" fill="#86d046"/>
<path d="M103.9,1541.5 Q111.9,1540.2 114.7,1533.4 Q109.7,1537.1 103.9,1541.5Z" fill="#94d858"/>
<path d="M104.3,1536.0 Q100.8,1529.2 96.9,1521.8 Q97.4,1531.0 104.3,1536.0Z" fill="#74c236"/>
<path d="M104.3,1536.0 Q98.4,1532.2 93.5,1529.1 Q96.4,1535.4 104.3,1536.0Z" fill="#62b02c"/>
<path d="M104.3,1536.0 Q112.8,1532.8 115.6,1524.6 Q110.1,1530.2 104.3,1536.0Z" fill="#94d858"/>
<path d="M104.3,1536.0 Q112.4,1535.7 115.5,1529.7 Q110.5,1532.4 104.3,1536.0Z" fill="#74c236"/>
<path d="M104.7,1530.5 Q102.0,1524.7 98.8,1518.2 Q98.6,1526.4 104.7,1530.5Z" fill="#86d046"/>
<path d="M104.7,1530.5 Q99.5,1527.3 95.4,1524.9 Q97.6,1530.5 104.7,1530.5Z" fill="#86d046"/>
<path d="M104.7,1530.5 Q111.7,1527.3 112.6,1519.4 Q108.6,1525.0 104.7,1530.5Z" fill="#94d858"/>
<path d="M104.7,1530.5 Q111.8,1530.0 113.5,1524.1 Q109.5,1527.0 104.7,1530.5Z" fill="#62b02c"/>
<path d="M105.1,1525.0 Q100.0,1519.6 95.2,1514.4 Q97.3,1522.2 105.1,1525.0Z" fill="#62b02c"/>
<path d="M105.1,1525.0 Q101.8,1520.4 98.4,1515.5 Q98.7,1522.6 105.1,1525.0Z" fill="#94d858"/>
<path d="M105.1,1525.0 Q113.9,1524.2 117.8,1517.8 Q112.0,1520.9 105.1,1525.0Z" fill="#74c236"/>
<path d="M105.1,1525.0 Q112.5,1524.6 114.8,1518.5 Q110.4,1521.4 105.1,1525.0Z" fill="#62b02c"/>
<path d="M105.5,1519.5 Q99.6,1514.3 94.2,1509.5 Q97.1,1517.2 105.5,1519.5Z" fill="#74c236"/>
<path d="M105.5,1519.5 Q101.8,1514.8 98.1,1510.0 Q98.8,1517.1 105.5,1519.5Z" fill="#86d046"/>
<path d="M105.5,1519.5 Q114.2,1517.6 117.5,1510.3 Q111.9,1514.6 105.5,1519.5Z" fill="#62b02c"/>
<path d="M105.5,1519.5 Q112.8,1518.1 114.6,1511.5 Q110.3,1515.3 105.5,1519.5Z" fill="#74c236"/>
<path d="M105.9,1521.0 L97.6,1509.2" stroke="#86d046" stroke-width="2" stroke-linecap="round"/>
<path d="M105.9,1521.0 L101.5,1507.3" stroke="#86d046" stroke-width="2" stroke-linecap="round"/>
<path d="M105.9,1521.0 L105.9,1506.5" stroke="#86d046" stroke-width="2" stroke-linecap="round"/>
<path d="M105.9,1521.0 L109.9,1507.1" stroke="#86d046" stroke-width="2" stroke-linecap="round"/>
<path d="M105.9,1521.0 L114.0,1509.0" stroke="#86d046" stroke-width="2" stroke-linecap="round"/>
<g stroke="#86d046" stroke-width="2" stroke-linecap="round" fill="none"><path d="M106,1530 Q96,1520 87,1519 M106,1530 Q100,1516 95,1512 M106,1530 Q114,1516 120,1514 M106,1530 Q118,1524 126,1524 M106,1532 Q96,1528 88,1530 M107,1532 Q118,1530 124,1534"/></g>
<g fill="none" stroke="#55b02a" stroke-linecap="round" stroke-linejoin="round"><path d="M258,1514 C268,1508 280,1514 292,1516 C306,1519 322,1516 336,1512 C346,1509 352,1506 355,1500" stroke-width="4.2"/><path d="M266,1511 L262,1520 M274,1512 L279,1521 M316,1517 L322,1527 M330,1513 L326,1504"/></g>
<circle cx="289" cy="1514.5" r="6" fill="#55b02a"/>
<path d="M322,1513 L326,1499 L330,1504 L334,1500 L336,1512Z" fill="#55b02a"/>
<path d="M334,1560 C350,1558 362,1566 380,1564 C405,1570 420,1568 437,1566 C455,1566 470,1564 487,1563" fill="none" stroke="#d2a878" stroke-width="1.8"/>
<circle cx="338" cy="1558.5" r="1.6" fill="#444"/>
<path d="M375,1563 C374,1555 379,1551 386,1553 C388,1558 386,1564 380,1565Z" fill="#2f7a22"/>
<g fill="none" stroke="#d8b48c" stroke-width="1"><path d="M433,1566 l-5,9 M436,1566 l1,10 M439,1566 l6,8 M484,1563 l-10,11 M487,1563 l-2,14 M490,1563 l8,11 M486,1568 l-6,10 M489,1568 l5,10 M378,1565 l-2,6"/></g>
<path d="M435.5,1527.0 L435.5,1565.0" stroke="#9ab85a" stroke-width="2.6" fill="none"/>
<path d="M435.5,1565.0 Q429.2,1560.5 423.7,1556.7 Q427.0,1563.6 435.5,1565.0Z" fill="#7cc044"/>
<path d="M435.5,1565.0 Q430.6,1561.2 426.3,1557.9 Q428.3,1564.2 435.5,1565.0Z" fill="#5aa02c"/>
<path d="M435.5,1565.0 Q441.5,1560.2 440.9,1551.6 Q438.0,1558.8 435.5,1565.0Z" fill="#7cc044"/>
<path d="M435.5,1565.0 Q443.0,1565.0 445.6,1559.3 Q441.1,1561.7 435.5,1565.0Z" fill="#4a8c24"/>
<path d="M435.5,1559.3 Q432.8,1552.9 429.7,1545.5 Q429.3,1554.3 435.5,1559.3Z" fill="#7cc044"/>
<path d="M435.5,1559.3 Q430.3,1555.4 425.8,1552.3 Q428.0,1558.5 435.5,1559.3Z" fill="#7cc044"/>
<path d="M435.5,1559.3 Q444.4,1558.2 448.3,1551.4 Q442.4,1555.0 435.5,1559.3Z" fill="#5aa02c"/>
<path d="M435.5,1559.3 Q441.6,1556.2 441.4,1548.9 Q438.3,1554.3 435.5,1559.3Z" fill="#4a8c24"/>
<path d="M435.5,1553.6 Q428.7,1547.1 422.2,1540.9 Q426.0,1549.8 435.5,1553.6Z" fill="#5aa02c"/>
<path d="M435.5,1553.6 Q429.0,1549.1 423.3,1545.3 Q426.9,1552.2 435.5,1553.6Z" fill="#4a8c24"/>
<path d="M435.5,1553.6 Q446.0,1552.1 451.7,1544.9 Q444.2,1548.8 435.5,1553.6Z" fill="#4a8c24"/>
<path d="M435.5,1553.6 Q444.1,1552.0 447.4,1545.0 Q441.8,1548.9 435.5,1553.6Z" fill="#4a8c24"/>
<path d="M435.5,1547.9 Q431.8,1540.1 427.6,1531.6 Q428.4,1541.8 435.5,1547.9Z" fill="#6cb23a"/>
<path d="M435.5,1547.9 Q429.7,1543.0 424.4,1538.6 Q427.2,1545.9 435.5,1547.9Z" fill="#4a8c24"/>
<path d="M435.5,1547.9 Q442.7,1541.8 443.4,1531.6 Q439.2,1540.1 435.5,1547.9Z" fill="#5aa02c"/>
<path d="M435.5,1547.9 Q443.5,1545.4 445.8,1537.7 Q440.8,1542.7 435.5,1547.9Z" fill="#6cb23a"/>
<path d="M435.5,1542.2 Q426.6,1536.7 418.8,1531.9 Q424.6,1539.9 435.5,1542.2Z" fill="#7cc044"/>
<path d="M435.5,1542.2 Q428.2,1537.8 422.0,1534.2 Q426.3,1541.0 435.5,1542.2Z" fill="#6cb23a"/>
<path d="M435.5,1542.2 Q445.0,1537.5 448.8,1527.7 Q442.2,1534.9 435.5,1542.2Z" fill="#5aa02c"/>
<path d="M435.5,1542.2 Q444.1,1539.5 447.1,1531.6 Q441.5,1536.7 435.5,1542.2Z" fill="#6cb23a"/>
<path d="M435.5,1536.5 Q430.8,1529.6 426.0,1522.4 Q427.7,1531.7 435.5,1536.5Z" fill="#5aa02c"/>
<path d="M435.5,1536.5 Q432.8,1530.8 429.6,1524.2 Q429.4,1532.4 435.5,1536.5Z" fill="#6cb23a"/>
<path d="M435.5,1536.5 Q442.5,1531.0 443.1,1521.3 Q439.1,1529.3 435.5,1536.5Z" fill="#4a8c24"/>
<path d="M435.5,1536.5 Q442.4,1533.2 443.2,1525.3 Q439.3,1531.0 435.5,1536.5Z" fill="#6cb23a"/>
<path d="M435.5,1530.8 Q432.1,1525.1 428.4,1518.9 Q428.8,1527.0 435.5,1530.8Z" fill="#6cb23a"/>
<path d="M435.5,1530.8 Q430.5,1527.3 426.4,1524.5 Q428.4,1530.4 435.5,1530.8Z" fill="#5aa02c"/>
<path d="M435.5,1530.8 Q442.1,1526.9 442.3,1518.8 Q438.8,1525.1 435.5,1530.8Z" fill="#6cb23a"/>
<path d="M435.5,1530.8 Q440.9,1527.6 439.8,1520.6 Q437.4,1526.2 435.5,1530.8Z" fill="#4a8c24"/>
<path d="M435.5,1525.1 Q430.1,1520.4 425.3,1516.1 Q427.6,1523.3 435.5,1525.1Z" fill="#4a8c24"/>
<path d="M435.5,1525.1 Q432.2,1520.8 429.0,1516.4 Q429.2,1523.1 435.5,1525.1Z" fill="#7cc044"/>
<path d="M435.5,1525.1 Q442.3,1521.7 443.0,1513.8 Q439.2,1519.6 435.5,1525.1Z" fill="#7cc044"/>
<path d="M435.5,1525.1 Q441.0,1522.1 440.0,1515.2 Q437.5,1520.6 435.5,1525.1Z" fill="#7cc044"/>
<path d="M435.5,1530.0 L427.2,1518.2" stroke="#6cb23a" stroke-width="2" stroke-linecap="round"/>
<path d="M435.5,1530.0 L431.0,1516.3" stroke="#6cb23a" stroke-width="2" stroke-linecap="round"/>
<path d="M435.5,1530.0 L435.5,1515.5" stroke="#6cb23a" stroke-width="2" stroke-linecap="round"/>
<path d="M435.5,1530.0 L439.5,1516.1" stroke="#6cb23a" stroke-width="2" stroke-linecap="round"/>
<path d="M435.5,1530.0 L443.6,1518.0" stroke="#6cb23a" stroke-width="2" stroke-linecap="round"/>
<path d="M487.0,1425.0 L487.0,1562.0" stroke="#9ab85a" stroke-width="2.6" fill="none"/>
<path d="M487.0,1562.0 Q484.4,1557.0 481.4,1551.4 Q481.0,1558.8 487.0,1562.0Z" fill="#5aa02c"/>
<path d="M487.0,1562.0 Q485.2,1558.0 483.0,1553.3 Q481.8,1559.6 487.0,1562.0Z" fill="#5aa02c"/>
<path d="M487.0,1562.0 Q493.6,1559.5 494.2,1552.4 Q490.6,1557.3 487.0,1562.0Z" fill="#5aa02c"/>
<path d="M487.0,1562.0 Q493.6,1562.3 495.2,1557.0 Q491.6,1559.1 487.0,1562.0Z" fill="#6cb23a"/>
<path d="M487.0,1556.6 Q483.3,1552.2 479.7,1547.7 Q480.4,1554.6 487.0,1556.6Z" fill="#5aa02c"/>
<path d="M487.0,1556.6 Q484.7,1552.9 482.1,1548.8 Q481.5,1554.9 487.0,1556.6Z" fill="#7cc044"/>
<path d="M487.0,1556.6 Q492.6,1553.4 491.8,1546.1 Q489.2,1551.8 487.0,1556.6Z" fill="#5aa02c"/>
<path d="M487.0,1556.6 Q493.5,1557.2 495.0,1552.0 Q491.6,1553.9 487.0,1556.6Z" fill="#5aa02c"/>
<path d="M487.0,1551.3 Q482.6,1545.7 478.3,1540.1 Q479.6,1548.0 487.0,1551.3Z" fill="#6cb23a"/>
<path d="M487.0,1551.3 Q484.9,1546.5 482.4,1540.9 Q481.5,1548.1 487.0,1551.3Z" fill="#6cb23a"/>
<path d="M487.0,1551.3 Q494.0,1547.6 494.9,1539.5 Q490.8,1545.5 487.0,1551.3Z" fill="#6cb23a"/>
<path d="M487.0,1551.3 Q493.8,1549.7 494.8,1543.1 Q491.0,1547.1 487.0,1551.3Z" fill="#4a8c24"/>
<path d="M487.0,1545.9 Q481.1,1540.9 475.8,1536.3 Q478.7,1543.8 487.0,1545.9Z" fill="#5aa02c"/>
<path d="M487.0,1545.9 Q482.6,1541.6 478.6,1537.6 Q480.0,1544.3 487.0,1545.9Z" fill="#6cb23a"/>
<path d="M487.0,1545.9 Q494.4,1542.4 495.9,1534.1 Q491.4,1540.1 487.0,1545.9Z" fill="#5aa02c"/>
<path d="M487.0,1545.9 Q494.0,1544.3 495.3,1537.5 Q491.3,1541.6 487.0,1545.9Z" fill="#6cb23a"/>
<path d="M487.0,1540.6 Q481.7,1535.0 476.7,1529.6 Q478.9,1537.6 487.0,1540.6Z" fill="#4a8c24"/>
<path d="M487.0,1540.6 Q483.0,1536.0 479.1,1531.4 Q480.1,1538.4 487.0,1540.6Z" fill="#7cc044"/>
<path d="M487.0,1540.6 Q494.5,1536.8 496.0,1528.4 Q491.5,1534.6 487.0,1540.6Z" fill="#6cb23a"/>
<path d="M487.0,1540.6 Q494.5,1539.7 496.7,1533.4 Q492.2,1536.7 487.0,1540.6Z" fill="#6cb23a"/>
<path d="M487.0,1535.2 Q483.2,1529.6 479.3,1523.7 Q480.1,1531.7 487.0,1535.2Z" fill="#7cc044"/>
<path d="M487.0,1535.2 Q481.9,1531.8 477.7,1529.2 Q479.8,1535.0 487.0,1535.2Z" fill="#7cc044"/>
<path d="M487.0,1535.2 Q493.9,1531.7 494.6,1523.7 Q490.7,1529.6 487.0,1535.2Z" fill="#5aa02c"/>
<path d="M487.0,1535.2 Q492.7,1532.3 492.0,1525.3 Q489.3,1530.6 487.0,1535.2Z" fill="#7cc044"/>
<path d="M487.0,1529.9 Q482.8,1524.0 478.5,1518.0 Q479.7,1526.2 487.0,1529.9Z" fill="#7cc044"/>
<path d="M487.0,1529.9 Q483.3,1525.3 479.7,1520.7 Q480.4,1527.7 487.0,1529.9Z" fill="#5aa02c"/>
<path d="M487.0,1529.9 Q495.5,1528.1 498.6,1521.0 Q493.2,1525.1 487.0,1529.9Z" fill="#4a8c24"/>
<path d="M487.0,1529.9 Q493.4,1527.4 493.8,1520.3 Q490.4,1525.2 487.0,1529.9Z" fill="#4a8c24"/>
<path d="M487.0,1524.5 Q480.8,1518.4 475.0,1512.6 Q478.2,1521.1 487.0,1524.5Z" fill="#7cc044"/>
<path d="M487.0,1524.5 Q484.4,1518.7 481.3,1512.2 Q480.9,1520.3 487.0,1524.5Z" fill="#5aa02c"/>
<path d="M487.0,1524.5 Q496.8,1523.1 501.6,1516.0 Q494.9,1519.8 487.0,1524.5Z" fill="#7cc044"/>
<path d="M487.0,1524.5 Q494.9,1522.8 497.4,1515.8 Q492.5,1519.9 487.0,1524.5Z" fill="#5aa02c"/>
<path d="M487.0,1519.1 Q481.0,1514.1 475.6,1509.6 Q478.6,1517.0 487.0,1519.1Z" fill="#7cc044"/>
<path d="M487.0,1519.1 Q483.8,1514.3 480.5,1509.2 Q480.7,1516.4 487.0,1519.1Z" fill="#7cc044"/>
<path d="M487.0,1519.1 Q495.8,1518.0 499.5,1511.2 Q493.7,1514.8 487.0,1519.1Z" fill="#4a8c24"/>
<path d="M487.0,1519.1 Q492.6,1515.6 491.6,1508.2 Q489.1,1514.1 487.0,1519.1Z" fill="#7cc044"/>
<path d="M487.0,1513.8 Q480.9,1507.9 475.1,1502.5 Q478.2,1510.7 487.0,1513.8Z" fill="#7cc044"/>
<path d="M487.0,1513.8 Q484.5,1508.2 481.6,1501.8 Q481.1,1509.8 487.0,1513.8Z" fill="#4a8c24"/>
<path d="M487.0,1513.8 Q493.9,1508.5 494.5,1499.2 Q490.6,1506.8 487.0,1513.8Z" fill="#6cb23a"/>
<path d="M487.0,1513.8 Q494.0,1511.0 495.1,1503.4 Q491.0,1508.6 487.0,1513.8Z" fill="#7cc044"/>
<path d="M487.0,1508.4 Q482.1,1502.5 477.2,1496.7 Q479.1,1505.0 487.0,1508.4Z" fill="#4a8c24"/>
<path d="M487.0,1508.4 Q481.4,1504.7 476.7,1501.8 Q479.3,1507.9 487.0,1508.4Z" fill="#7cc044"/>
<path d="M487.0,1508.4 Q495.9,1507.0 499.7,1500.0 Q493.8,1503.8 487.0,1508.4Z" fill="#4a8c24"/>
<path d="M487.0,1508.4 Q494.4,1507.2 496.4,1500.6 Q492.0,1504.3 487.0,1508.4Z" fill="#4a8c24"/>
<path d="M487.0,1503.1 Q481.5,1495.9 476.0,1488.6 Q478.5,1498.2 487.0,1503.1Z" fill="#6cb23a"/>
<path d="M487.0,1503.1 Q483.8,1496.9 480.2,1490.2 Q480.4,1498.7 487.0,1503.1Z" fill="#6cb23a"/>
<path d="M487.0,1503.1 Q494.5,1497.1 495.6,1487.0 Q491.1,1495.3 487.0,1503.1Z" fill="#6cb23a"/>
<path d="M487.0,1503.1 Q493.0,1498.3 492.6,1489.6 Q489.5,1496.8 487.0,1503.1Z" fill="#6cb23a"/>
<path d="M487.0,1497.7 Q484.2,1490.7 480.9,1482.7 Q480.7,1492.1 487.0,1497.7Z" fill="#7cc044"/>
<path d="M487.0,1497.7 Q482.4,1492.9 478.1,1488.3 Q479.7,1495.5 487.0,1497.7Z" fill="#4a8c24"/>
<path d="M487.0,1497.7 Q496.5,1496.5 501.0,1489.6 Q494.6,1493.2 487.0,1497.7Z" fill="#5aa02c"/>
<path d="M487.0,1497.7 Q494.1,1495.2 495.4,1487.8 Q491.2,1492.7 487.0,1497.7Z" fill="#7cc044"/>
<path d="M487.0,1492.3 Q481.9,1485.8 476.8,1479.1 Q478.9,1488.1 487.0,1492.3Z" fill="#7cc044"/>
<path d="M487.0,1492.3 Q481.9,1487.6 477.1,1483.3 Q479.3,1490.4 487.0,1492.3Z" fill="#5aa02c"/>
<path d="M487.0,1492.3 Q494.3,1487.2 495.3,1477.8 Q491.0,1485.3 487.0,1492.3Z" fill="#6cb23a"/>
<path d="M487.0,1492.3 Q494.2,1489.6 495.5,1482.0 Q491.3,1487.2 487.0,1492.3Z" fill="#5aa02c"/>
<path d="M487.0,1487.0 Q483.9,1480.0 480.4,1472.1 Q480.4,1481.5 487.0,1487.0Z" fill="#5aa02c"/>
<path d="M487.0,1487.0 Q482.3,1482.2 477.8,1477.7 Q479.6,1484.9 487.0,1487.0Z" fill="#5aa02c"/>
<path d="M487.0,1487.0 Q496.5,1485.8 501.1,1478.8 Q494.6,1482.5 487.0,1487.0Z" fill="#5aa02c"/>
<path d="M487.0,1487.0 Q493.0,1483.1 492.5,1475.2 Q489.5,1481.5 487.0,1487.0Z" fill="#6cb23a"/>
<path d="M487.0,1481.6 Q483.1,1474.3 478.9,1466.4 Q479.8,1476.1 487.0,1481.6Z" fill="#4a8c24"/>
<path d="M487.0,1481.6 Q480.4,1477.7 475.0,1474.8 Q478.6,1481.0 487.0,1481.6Z" fill="#4a8c24"/>
<path d="M487.0,1481.6 Q495.6,1477.6 498.3,1468.6 Q492.7,1475.1 487.0,1481.6Z" fill="#5aa02c"/>
<path d="M487.0,1481.6 Q495.3,1480.5 498.5,1473.9 Q493.2,1477.4 487.0,1481.6Z" fill="#7cc044"/>
<path d="M487.0,1476.3 Q482.5,1469.7 477.8,1462.8 Q479.3,1471.8 487.0,1476.3Z" fill="#6cb23a"/>
<path d="M487.0,1476.3 Q484.3,1470.8 481.3,1464.6 Q480.9,1472.4 487.0,1476.3Z" fill="#4a8c24"/>
<path d="M487.0,1476.3 Q496.1,1473.9 499.8,1466.1 Q493.7,1470.9 487.0,1476.3Z" fill="#7cc044"/>
<path d="M487.0,1476.3 Q494.9,1475.3 497.7,1468.8 Q492.8,1472.2 487.0,1476.3Z" fill="#6cb23a"/>
<path d="M487.0,1470.9 Q483.1,1464.2 478.9,1457.0 Q479.8,1466.1 487.0,1470.9Z" fill="#4a8c24"/>
<path d="M487.0,1470.9 Q484.2,1465.6 481.0,1459.6 Q480.8,1467.3 487.0,1470.9Z" fill="#5aa02c"/>
<path d="M487.0,1470.9 Q496.0,1468.7 499.7,1461.1 Q493.7,1465.7 487.0,1470.9Z" fill="#4a8c24"/>
<path d="M487.0,1470.9 Q495.0,1470.7 498.2,1464.7 Q493.2,1467.4 487.0,1470.9Z" fill="#5aa02c"/>
<path d="M487.0,1465.6 Q482.7,1458.9 478.2,1451.8 Q479.5,1460.9 487.0,1465.6Z" fill="#4a8c24"/>
<path d="M487.0,1465.6 Q480.9,1461.7 475.9,1458.7 Q478.9,1464.9 487.0,1465.6Z" fill="#4a8c24"/>
<path d="M487.0,1465.6 Q496.2,1463.3 500.0,1455.7 Q493.9,1460.3 487.0,1465.6Z" fill="#4a8c24"/>
<path d="M487.0,1465.6 Q494.6,1463.7 496.6,1456.7 Q492.0,1460.9 487.0,1465.6Z" fill="#6cb23a"/>
<path d="M487.0,1460.2 Q480.0,1455.2 473.8,1450.8 Q477.8,1458.3 487.0,1460.2Z" fill="#6cb23a"/>
<path d="M487.0,1460.2 Q483.9,1454.8 480.5,1449.0 Q480.6,1456.7 487.0,1460.2Z" fill="#7cc044"/>
<path d="M487.0,1460.2 Q494.8,1456.0 496.6,1447.1 Q491.8,1453.7 487.0,1460.2Z" fill="#5aa02c"/>
<path d="M487.0,1460.2 Q495.1,1460.0 498.4,1454.0 Q493.3,1456.6 487.0,1460.2Z" fill="#4a8c24"/>
<path d="M487.0,1454.8 Q483.6,1448.9 479.9,1442.5 Q480.3,1450.8 487.0,1454.8Z" fill="#4a8c24"/>
<path d="M487.0,1454.8 Q483.3,1450.5 479.7,1446.1 Q480.4,1452.9 487.0,1454.8Z" fill="#4a8c24"/>
<path d="M487.0,1454.8 Q495.6,1454.2 499.4,1447.8 Q493.7,1450.9 487.0,1454.8Z" fill="#4a8c24"/>
<path d="M487.0,1454.8 Q492.6,1451.7 491.9,1444.5 Q489.2,1450.1 487.0,1454.8Z" fill="#5aa02c"/>
<path d="M487.0,1449.5 Q484.0,1444.2 480.7,1438.5 Q480.7,1446.1 487.0,1449.5Z" fill="#6cb23a"/>
<path d="M487.0,1449.5 Q483.6,1445.6 480.3,1441.9 Q480.7,1448.1 487.0,1449.5Z" fill="#5aa02c"/>
<path d="M487.0,1449.5 Q494.1,1447.2 495.4,1439.9 Q491.3,1444.7 487.0,1449.5Z" fill="#4a8c24"/>
<path d="M487.0,1449.5 Q493.7,1449.2 495.2,1443.5 Q491.5,1446.2 487.0,1449.5Z" fill="#5aa02c"/>
<path d="M487.0,1444.1 Q484.0,1438.1 480.6,1431.4 Q480.6,1439.8 487.0,1444.1Z" fill="#7cc044"/>
<path d="M487.0,1444.1 Q482.1,1440.4 477.8,1437.3 Q479.8,1443.4 487.0,1444.1Z" fill="#6cb23a"/>
<path d="M487.0,1444.1 Q494.6,1441.2 496.4,1433.4 Q491.8,1438.7 487.0,1444.1Z" fill="#6cb23a"/>
<path d="M487.0,1444.1 Q493.6,1442.1 494.2,1435.3 Q490.7,1439.7 487.0,1444.1Z" fill="#4a8c24"/>
<path d="M487.0,1438.8 Q481.6,1435.5 477.3,1433.2 Q479.7,1438.8 487.0,1438.8Z" fill="#7cc044"/>
<path d="M487.0,1438.8 Q484.0,1435.3 481.2,1432.0 Q481.1,1437.8 487.0,1438.8Z" fill="#5aa02c"/>
<path d="M487.0,1438.8 Q494.0,1437.9 495.7,1431.7 Q491.6,1435.0 487.0,1438.8Z" fill="#6cb23a"/>
<path d="M487.0,1438.8 Q493.3,1439.5 494.9,1434.5 Q491.5,1436.2 487.0,1438.8Z" fill="#5aa02c"/>
<path d="M487.0,1433.4 Q481.7,1430.0 477.3,1427.4 Q479.7,1433.2 487.0,1433.4Z" fill="#6cb23a"/>
<path d="M487.0,1433.4 Q483.5,1430.1 480.4,1427.1 Q480.9,1432.8 487.0,1433.4Z" fill="#7cc044"/>
<path d="M487.0,1433.4 Q494.0,1432.2 495.5,1425.8 Q491.5,1429.4 487.0,1433.4Z" fill="#4a8c24"/>
<path d="M487.0,1433.4 Q492.3,1431.5 491.3,1425.4 Q489.0,1429.7 487.0,1433.4Z" fill="#6cb23a"/>
<path d="M487.0,1428.0 Q482.2,1424.5 478.1,1421.6 Q480.0,1427.6 487.0,1428.0Z" fill="#5aa02c"/>
<path d="M487.0,1428.0 Q483.9,1424.8 481.0,1421.6 Q481.1,1427.3 487.0,1428.0Z" fill="#6cb23a"/>
<path d="M487.0,1428.0 Q493.4,1426.2 493.9,1419.6 Q490.5,1423.8 487.0,1428.0Z" fill="#6cb23a"/>
<path d="M487.0,1428.0 Q493.2,1428.3 494.2,1423.0 Q491.0,1425.2 487.0,1428.0Z" fill="#6cb23a"/>
<path d="M487.0,1428.0 L479.2,1416.9" stroke="#6cb23a" stroke-width="2" stroke-linecap="round"/>
<path d="M487.0,1428.0 L482.8,1415.1" stroke="#6cb23a" stroke-width="2" stroke-linecap="round"/>
<path d="M487.0,1428.0 L487.0,1414.4" stroke="#6cb23a" stroke-width="2" stroke-linecap="round"/>
<path d="M487.0,1428.0 L490.7,1414.9" stroke="#6cb23a" stroke-width="2" stroke-linecap="round"/>
<path d="M487.0,1428.0 L494.6,1416.7" stroke="#6cb23a" stroke-width="2" stroke-linecap="round"/>
<text x="128.7" y="1345.7" font-size="13" fill="#5c5c5c" textLength="43.3" lengthAdjust="spacingAndGlyphs" stroke="#5c5c5c" stroke-width="0.2">Czepek</text>
<text x="208.6" y="1384.4" font-size="13" fill="#5c5c5c" textLength="48.2" lengthAdjust="spacingAndGlyphs" stroke="#5c5c5c" stroke-width="0.2">Wieczko</text>
<text x="196.4" y="1401.8" font-size="13" fill="#5c5c5c" textLength="41.2" lengthAdjust="spacingAndGlyphs" stroke="#5c5c5c" stroke-width="0.2">Puszka</text>
<text x="257.5" y="1410.3" font-size="13" fill="#5c5c5c" textLength="58.9" lengthAdjust="spacingAndGlyphs" stroke="#5c5c5c" stroke-width="0.2">Mejospory</text>
<text x="257.5" y="1425.0" font-size="13" fill="#5c5c5c" textLength="60.5" lengthAdjust="spacingAndGlyphs" stroke="#5c5c5c" stroke-width="0.2">(zarodniki)</text>
<text x="28.0" y="1450.4" font-size="13" fill="#5c5c5c" textLength="44.0" lengthAdjust="spacingAndGlyphs" stroke="#5c5c5c" stroke-width="0.2">Sporofit</text>
<text x="128.0" y="1466.0" font-size="13" fill="#5c5c5c" textLength="26.5" lengthAdjust="spacingAndGlyphs" stroke="#5c5c5c" stroke-width="0.2">Seta</text>
<text x="184.8" y="1486.0" font-size="13" fill="#5c5c5c" textLength="51.2" lengthAdjust="spacingAndGlyphs" stroke="#5c5c5c" stroke-width="0.2">Zarodnia</text>
<text x="325.0" y="1470.0" font-size="13" fill="#5c5c5c" textLength="51.7" lengthAdjust="spacingAndGlyphs" stroke="#5c5c5c" stroke-width="0.2">Chwytnik</text>
<text x="292.6" y="1547.6" font-size="13" fill="#5c5c5c" textLength="40.2" lengthAdjust="spacingAndGlyphs" stroke="#5c5c5c" stroke-width="0.2">Pączek</text>
<text x="440.8" y="1412.0" font-size="13" fill="#5c5c5c" textLength="91.2" lengthAdjust="spacingAndGlyphs" stroke="#5c5c5c" stroke-width="0.2">Młody gametofit</text>
<path d="M573,1586 C590,1582 600,1590 612,1586 C625,1582 640,1588 652,1583 L652,1588 C640,1593 626,1588 612,1592 C600,1596 588,1588 574,1592Z" fill="#e6d028"/>
<path d="M604,1588 l-2,9 M616,1589 l3,9" stroke="#e6d028" stroke-width="3" fill="none"/>
<ellipse cx="587.8" cy="1571.8" rx="10.5" ry="3.7" fill="#4c8c30" transform="rotate(-172 587.8 1571.8)"/>
<ellipse cx="607.5" cy="1570.2" rx="10.5" ry="3.7" fill="#5a9c38" transform="rotate(-18 607.5 1570.2)"/>
<ellipse cx="586.8" cy="1564.1" rx="11.0" ry="3.7" fill="#68a840" transform="rotate(-171 586.8 1564.1)"/>
<ellipse cx="607.3" cy="1562.5" rx="11.0" ry="3.7" fill="#5a9c38" transform="rotate(-18 607.3 1562.5)"/>
<ellipse cx="585.9" cy="1556.4" rx="11.4" ry="3.6" fill="#447f2c" transform="rotate(-170 585.9 1556.4)"/>
<ellipse cx="607.0" cy="1554.8" rx="11.4" ry="3.6" fill="#447f2c" transform="rotate(-19 607.0 1554.8)"/>
<ellipse cx="585.1" cy="1548.8" rx="11.6" ry="3.6" fill="#447f2c" transform="rotate(-170 585.1 1548.8)"/>
<ellipse cx="606.6" cy="1547.1" rx="11.6" ry="3.6" fill="#447f2c" transform="rotate(-20 606.6 1547.1)"/>
<ellipse cx="584.8" cy="1541.2" rx="11.4" ry="3.5" fill="#4c8c30" transform="rotate(-169 584.8 1541.2)"/>
<ellipse cx="605.8" cy="1539.6" rx="11.4" ry="3.5" fill="#5a9c38" transform="rotate(-20 605.8 1539.6)"/>
<ellipse cx="584.5" cy="1533.6" rx="11.1" ry="3.4" fill="#447f2c" transform="rotate(-168 584.5 1533.6)"/>
<ellipse cx="604.9" cy="1532.1" rx="11.1" ry="3.4" fill="#5a9c38" transform="rotate(-21 604.9 1532.1)"/>
<ellipse cx="584.2" cy="1526.1" rx="10.8" ry="3.4" fill="#447f2c" transform="rotate(-167 584.2 1526.1)"/>
<ellipse cx="604.0" cy="1524.6" rx="10.8" ry="3.4" fill="#447f2c" transform="rotate(-21 604.0 1524.6)"/>
<ellipse cx="584.1" cy="1518.5" rx="10.4" ry="3.3" fill="#5a9c38" transform="rotate(-167 584.1 1518.5)"/>
<ellipse cx="603.1" cy="1517.1" rx="10.4" ry="3.3" fill="#447f2c" transform="rotate(-22 603.1 1517.1)"/>
<ellipse cx="583.8" cy="1511.2" rx="10.0" ry="3.1" fill="#68a840" transform="rotate(-167 583.8 1511.2)"/>
<ellipse cx="602.0" cy="1509.5" rx="10.0" ry="3.1" fill="#4c8c30" transform="rotate(-24 602.0 1509.5)"/>
<ellipse cx="583.6" cy="1503.8" rx="9.5" ry="3.0" fill="#5a9c38" transform="rotate(-166 583.6 1503.8)"/>
<ellipse cx="600.8" cy="1502.1" rx="9.5" ry="3.0" fill="#68a840" transform="rotate(-25 600.8 1502.1)"/>
<ellipse cx="583.4" cy="1496.3" rx="9.0" ry="2.9" fill="#5a9c38" transform="rotate(-166 583.4 1496.3)"/>
<ellipse cx="599.6" cy="1494.8" rx="9.0" ry="2.9" fill="#5a9c38" transform="rotate(-25 599.6 1494.8)"/>
<ellipse cx="583.3" cy="1488.9" rx="8.4" ry="2.7" fill="#5a9c38" transform="rotate(-165 583.3 1488.9)"/>
<ellipse cx="598.3" cy="1487.4" rx="8.4" ry="2.7" fill="#5a9c38" transform="rotate(-26 598.3 1487.4)"/>
<ellipse cx="583.2" cy="1481.5" rx="7.7" ry="2.6" fill="#447f2c" transform="rotate(-164 583.2 1481.5)"/>
<ellipse cx="596.9" cy="1480.2" rx="7.7" ry="2.6" fill="#4c8c30" transform="rotate(-27 596.9 1480.2)"/>
<ellipse cx="584.2" cy="1473.1" rx="7.0" ry="2.4" fill="#447f2c" transform="rotate(-155 584.2 1473.1)"/>
<ellipse cx="596.6" cy="1473.9" rx="7.0" ry="2.4" fill="#5a9c38" transform="rotate(-18 596.6 1473.9)"/>
<ellipse cx="585.4" cy="1465.9" rx="6.2" ry="2.2" fill="#4c8c30" transform="rotate(-154 585.4 1465.9)"/>
<ellipse cx="596.3" cy="1466.6" rx="6.2" ry="2.2" fill="#447f2c" transform="rotate(-19 596.3 1466.6)"/>
<ellipse cx="586.6" cy="1458.7" rx="5.3" ry="2.0" fill="#447f2c" transform="rotate(-153 586.6 1458.7)"/>
<ellipse cx="596.0" cy="1459.3" rx="5.3" ry="2.0" fill="#4c8c30" transform="rotate(-20 596.0 1459.3)"/>
<ellipse cx="588.7" cy="1450.7" rx="4.4" ry="1.8" fill="#68a840" transform="rotate(-137 588.7 1450.7)"/>
<ellipse cx="595.9" cy="1453.1" rx="4.4" ry="1.8" fill="#4c8c30" transform="rotate(-5 595.9 1453.1)"/>
<ellipse cx="591.8" cy="1444.2" rx="3.4" ry="1.6" fill="#4c8c30" transform="rotate(-137 591.8 1444.2)"/>
<ellipse cx="597.4" cy="1446.1" rx="3.4" ry="1.6" fill="#447f2c" transform="rotate(-6 597.4 1446.1)"/>
<ellipse cx="596.0" cy="1437.6" rx="2.3" ry="1.4" fill="#68a840" transform="rotate(-118 596.0 1437.6)"/>
<ellipse cx="599.2" cy="1440.0" rx="2.3" ry="1.4" fill="#5a9c38" transform="rotate(11 599.2 1440.0)"/>
<ellipse cx="601.0" cy="1432.5" rx="1.2" ry="1.1" fill="#447f2c" transform="rotate(-118 601.0 1432.5)"/>
<ellipse cx="602.6" cy="1433.7" rx="1.2" ry="1.1" fill="#5a9c38" transform="rotate(10 602.6 1433.7)"/>
<path d="M598.7,1584.0 C598.2,1578.3 596.9,1561.4 596.0,1550.0 C595.1,1538.6 594.4,1527.2 593.4,1515.5 C592.4,1503.8 590.3,1490.2 590.0,1480.0 C589.7,1469.8 590.6,1460.5 591.6,1454.0 C592.6,1447.5 594.4,1444.4 596.0,1441.0 C597.6,1437.6 600.6,1434.8 601.5,1433.5" fill="none" stroke="#2c5a1c" stroke-width="1.7" stroke-linecap="round"/>
<ellipse cx="610.4" cy="1572.5" rx="7.8" ry="3.7" fill="#5a9436" transform="rotate(-164 610.4 1572.5)"/>
<ellipse cx="624.9" cy="1573.4" rx="7.8" ry="3.7" fill="#5a9436" transform="rotate(-10 624.9 1573.4)"/>
<ellipse cx="610.5" cy="1564.5" rx="8.2" ry="3.7" fill="#5a9436" transform="rotate(-163 610.5 1564.5)"/>
<ellipse cx="625.7" cy="1565.4" rx="8.2" ry="3.7" fill="#6a9e3e" transform="rotate(-10 625.7 1565.4)"/>
<ellipse cx="610.6" cy="1556.5" rx="8.5" ry="3.6" fill="#4a842e" transform="rotate(-162 610.6 1556.5)"/>
<ellipse cx="626.5" cy="1557.4" rx="8.5" ry="3.6" fill="#6a9e3e" transform="rotate(-11 626.5 1557.4)"/>
<ellipse cx="611.1" cy="1548.7" rx="8.5" ry="3.5" fill="#6a9e3e" transform="rotate(-162 611.1 1548.7)"/>
<ellipse cx="626.8" cy="1549.5" rx="8.5" ry="3.5" fill="#4a842e" transform="rotate(-12 626.8 1549.5)"/>
<ellipse cx="611.7" cy="1540.9" rx="8.3" ry="3.5" fill="#5a9436" transform="rotate(-161 611.7 1540.9)"/>
<ellipse cx="627.0" cy="1541.6" rx="8.3" ry="3.5" fill="#4a842e" transform="rotate(-13 627.0 1541.6)"/>
<ellipse cx="612.4" cy="1533.0" rx="8.0" ry="3.4" fill="#7aa848" transform="rotate(-160 612.4 1533.0)"/>
<ellipse cx="627.1" cy="1533.8" rx="8.0" ry="3.4" fill="#7aa848" transform="rotate(-14 627.1 1533.8)"/>
<ellipse cx="613.6" cy="1525.0" rx="7.7" ry="3.2" fill="#6a9e3e" transform="rotate(-156 613.6 1525.0)"/>
<ellipse cx="627.5" cy="1526.4" rx="7.7" ry="3.2" fill="#7aa848" transform="rotate(-12 627.5 1526.4)"/>
<ellipse cx="614.7" cy="1517.3" rx="7.3" ry="3.1" fill="#6a9e3e" transform="rotate(-156 614.7 1517.3)"/>
<ellipse cx="627.9" cy="1518.6" rx="7.3" ry="3.1" fill="#5a9436" transform="rotate(-13 627.9 1518.6)"/>
<ellipse cx="615.9" cy="1509.6" rx="6.8" ry="3.0" fill="#5a9436" transform="rotate(-155 615.9 1509.6)"/>
<ellipse cx="628.2" cy="1510.8" rx="6.8" ry="3.0" fill="#6a9e3e" transform="rotate(-14 628.2 1510.8)"/>
<ellipse cx="617.2" cy="1502.0" rx="6.3" ry="2.8" fill="#7aa848" transform="rotate(-154 617.2 1502.0)"/>
<ellipse cx="628.5" cy="1503.1" rx="6.3" ry="2.8" fill="#6a9e3e" transform="rotate(-15 628.5 1503.1)"/>
<ellipse cx="619.4" cy="1493.4" rx="5.7" ry="2.6" fill="#7aa848" transform="rotate(-141 619.4 1493.4)"/>
<ellipse cx="629.2" cy="1496.6" rx="5.7" ry="2.6" fill="#7aa848" transform="rotate(-3 629.2 1496.6)"/>
<ellipse cx="622.4" cy="1486.3" rx="5.1" ry="2.4" fill="#4a842e" transform="rotate(-140 622.4 1486.3)"/>
<ellipse cx="631.0" cy="1489.2" rx="5.1" ry="2.4" fill="#4a842e" transform="rotate(-4 631.0 1489.2)"/>
<ellipse cx="625.4" cy="1479.3" rx="4.4" ry="2.2" fill="#4a842e" transform="rotate(-139 625.4 1479.3)"/>
<ellipse cx="632.8" cy="1481.8" rx="4.4" ry="2.2" fill="#4a842e" transform="rotate(-4 632.8 1481.8)"/>
<ellipse cx="629.3" cy="1472.1" rx="3.6" ry="1.9" fill="#5a9436" transform="rotate(-127 629.3 1472.1)"/>
<ellipse cx="634.9" cy="1475.2" rx="3.6" ry="1.9" fill="#4a842e" transform="rotate(6 634.9 1475.2)"/>
<ellipse cx="633.7" cy="1465.9" rx="2.8" ry="1.7" fill="#6a9e3e" transform="rotate(-126 633.7 1465.9)"/>
<ellipse cx="637.9" cy="1468.3" rx="2.8" ry="1.7" fill="#4a842e" transform="rotate(5 637.9 1468.3)"/>
<ellipse cx="638.8" cy="1460.1" rx="1.9" ry="1.4" fill="#4a842e" transform="rotate(-117 638.8 1460.1)"/>
<ellipse cx="641.4" cy="1462.0" rx="1.9" ry="1.4" fill="#6a9e3e" transform="rotate(13 641.4 1462.0)"/>
<ellipse cx="644.0" cy="1454.7" rx="0.9" ry="1.1" fill="#4a842e" transform="rotate(-116 644.0 1454.7)"/>
<ellipse cx="645.2" cy="1455.7" rx="0.9" ry="1.1" fill="#7aa848" transform="rotate(12 645.2 1455.7)"/>
<path d="M617.0,1584.0 C617.2,1579.7 618.0,1566.5 618.5,1558.0 C619.0,1549.5 619.0,1543.0 619.8,1533.0 C620.6,1523.0 621.5,1507.4 623.3,1498.0 C625.0,1488.6 628.0,1482.3 630.3,1476.8 C632.6,1471.3 634.6,1468.5 637.0,1465.0 C639.4,1461.5 643.2,1457.1 644.4,1455.5" fill="none" stroke="#2c5a1c" stroke-width="1.7" stroke-linecap="round"/>
<path d="M610,1459 C620,1446 634,1438 648,1433" fill="none" stroke="#2a9ae6" stroke-width="5" stroke-linecap="butt"/><polygon points="659.0,1429.0 649.3,1440.5 649.6,1432.4 644.2,1426.4" fill="#2a9ae6"/>
<path d="M704,1418 C716,1411 736,1410 750,1414" fill="none" stroke="#2a9ae6" stroke-width="5" stroke-linecap="butt"/><polygon points="763.0,1418.0 748.3,1421.1 753.5,1414.9 753.0,1406.8" fill="#2a9ae6"/>
<path d="M826,1452 C832,1462 838,1472 842,1480" fill="none" stroke="#2a9ae6" stroke-width="5" stroke-linecap="butt"/><polygon points="847.0,1490.0 834.3,1482.0 842.3,1481.2 847.5,1475.0" fill="#2a9ae6"/>
<path d="M828,1558 C812,1570 798,1578 786,1582" fill="none" stroke="#e8501e" stroke-width="5" stroke-linecap="butt"/><polygon points="773.0,1586.0 782.7,1574.5 782.4,1582.6 787.8,1588.6" fill="#e8501e"/>
<path d="M720,1592 C704,1592 690,1590 680,1588" fill="none" stroke="#e8501e" stroke-width="5" stroke-linecap="butt"/><polygon points="665.0,1585.5 678.9,1579.9 674.9,1586.9 676.8,1594.7" fill="#e8501e"/>
<path d="M672,1424 C670,1412 678,1405 687,1406 C697,1408 700,1418 695,1426 C690,1433 680,1432 676,1430 L664,1441 L661,1438Z" fill="#9a6428"/>
<path d="M676,1416 C678,1410 686,1408 692,1412 C688,1411 680,1413 678,1420Z" fill="#c08a44"/>
<path d="M694,1424 L704,1430" stroke="#b8a070" stroke-width="1.2"/>
<ellipse cx="668" cy="1441" rx="12" ry="2" fill="#ddd" opacity=".7"/>
<g fill="none" stroke="#3aa05a" stroke-width="0.9"><path d="M780,1420 q-8,-8 -6,-16 M784,1418 q-4,-10 0,-16 M790,1416 q0,-8 6,-12 M778,1428 q-10,-2 -12,-10 M778,1436 q-8,2 -12,-4"/></g>
<path d="M802,1414 L836,1443 C822,1449 806,1448 806,1456 L834,1466 L830,1470 L786,1467 C776,1460 776,1430 780,1420 C786,1414 794,1413 802,1414Z" fill="#16883a"/>
<path d="M802,1414 L836,1443 C824,1446 812,1444 806,1449 C800,1436 790,1424 782,1420 C788,1414 796,1413 802,1414Z" fill="#2fb24e"/>
<path d="M801,1416 L838,1386 L858,1404 Z" fill="#f2e23a" opacity=".9"/>
<path d="M826,1443 L862,1424 L866,1460 Z" fill="#f2e23a" opacity=".9"/>
<circle cx="847.7" cy="1393" r="13.5" fill="#1fa044"/><circle cx="847.7" cy="1393" r="8.5" fill="#0c3a1c"/>
<g stroke="#9ee6a8" stroke-width="0.8" fill="none"><path d="M842,1388 l11,10 M853,1388 l-11,10 M847.7,1385 v16 M840,1393 h16 M840,1382 q-2,-6 4,-8 M848,1380 q2,-6 8,-4"/></g>
<path d="M856.5,1460 C855,1440 858,1424 866.5,1422 C875,1424 878,1440 876.5,1460Z" fill="#127a32"/>
<path d="M860.5,1458 C860,1444 862,1432 866.5,1430 C871,1432 873,1444 872.5,1458Z" fill="#0a3e1c"/>
<circle cx="865.5" cy="1453" r="4.6" fill="#b8f0a0"/>
<path d="M866,1461 L872,1468" stroke="#777" stroke-width="0.8"/>
<path d="M835.5,1552 C833,1530 838,1512 845.5,1510 C853,1512 858,1530 855.5,1552Z" fill="#127a32"/>
<path d="M839.5,1549 C838,1534 841,1520 845.5,1518 C850,1520 853,1534 851.5,1549Z" fill="#0a3e1c"/>
<circle cx="845" cy="1543.5" r="5" fill="#c8e83a"/>
<path d="M851,1553 L860,1563" stroke="#777" stroke-width="0.8"/>
<g stroke="#6ad07a" stroke-width="0.8" fill="none"><path d="M842,1528 q3,3 0,7 M845,1524 q5,5 0,12"/></g>
<path d="M727,1590 L744,1582 L762,1584 L756,1590 L748,1590 L758,1597 L752,1601 L734,1599Z" fill="#16883a"/>
<path d="M727,1590 L744,1582 L762,1584 L756,1589 L746,1588Z" fill="#2fb24e"/>
<path d="M748,1584 C747,1576 752,1572 753,1568 a3.4,3.4 0 1 0 -4.5,1.5 M754,1584 C755,1579 759,1577 759,1574 a2.4,2.4 0 1 0 -3,1" fill="none" stroke="#3aa84a" stroke-width="1.5"/>
<g stroke="#888" stroke-width="0.8" fill="none"><path d="M633,1500 L646,1524 M824,1383 L836,1388"/></g>
<text x="623.5" y="1360.4" font-size="20.6" font-weight="bold" fill="#111" textLength="219.2" lengthAdjust="spacingAndGlyphs">LIFE CYCLE OF THE FERN</text>
<text x="654.0" y="1395.0" font-size="9.6" fill="#333" textLength="52.0" lengthAdjust="spacingAndGlyphs" stroke="#333" stroke-width="0.15">Sporangium</text>
<text x="590.8" y="1424.0" font-size="9.4" font-weight="bold" fill="#2a9ae6" textLength="38.2" lengthAdjust="spacingAndGlyphs" stroke="#2a9ae6" stroke-width="0">MEIOSIS</text>
<text x="714.0" y="1437.0" font-size="9.6" fill="#333" textLength="25.0" lengthAdjust="spacingAndGlyphs" stroke="#333" stroke-width="0.15">Spore</text>
<text x="797.7" y="1385.0" font-size="9.6" fill="#333" textLength="27.3" lengthAdjust="spacingAndGlyphs" stroke="#333" stroke-width="0.15">Sperm</text>
<text x="754.0" y="1470.8" font-size="9.6" fill="#333" textLength="31.0" lengthAdjust="spacingAndGlyphs" stroke="#333" stroke-width="0.15">Mature</text>
<text x="754.0" y="1480.8" font-size="9.6" fill="#333" textLength="58.0" lengthAdjust="spacingAndGlyphs" stroke="#333" stroke-width="0.15">gametophyte</text>
<text x="867.7" y="1477.7" font-size="9.6" fill="#333" textLength="15.3" lengthAdjust="spacingAndGlyphs" stroke="#333" stroke-width="0.15">Egg</text>
<text x="813.8" y="1502.7" font-size="9.4" font-weight="bold" fill="#e8501e" textLength="67.2" lengthAdjust="spacingAndGlyphs" stroke="#e8501e" stroke-width="0">FERTILIZATION</text>
<text x="858.0" y="1572.0" font-size="9.6" fill="#333" textLength="29.0" lengthAdjust="spacingAndGlyphs" stroke="#333" stroke-width="0.15">Zygote</text>
<text x="645.4" y="1531.5" font-size="9.6" fill="#333" textLength="52.3" lengthAdjust="spacingAndGlyphs" stroke="#333" stroke-width="0.15">Sporangium</text>
<text x="715.8" y="1615.0" font-size="9.6" fill="#333" textLength="67.2" lengthAdjust="spacingAndGlyphs" stroke="#333" stroke-width="0.15">New sporophyte</text>
<text x="568.5" y="1615.0" font-size="9.6" fill="#333" textLength="79.2" lengthAdjust="spacingAndGlyphs" stroke="#333" stroke-width="0.15">Mature sporophyte</text>
</g></svg></div>
<div class="t " style="left:41.5px;top:1254.0px;font-size:35.4px;line-height:35.4px;letter-spacing:0.536px;color:#6a6a6a;">Похожие картинки</div>
<div class="t med" style="left:650.5px;top:1258.9px;font-size:29.6px;line-height:29.6px;letter-spacing:-0.306px;color:#a6a6a6;">ПОКАЗАТЬ ВСЕ</div>
</body></html>
